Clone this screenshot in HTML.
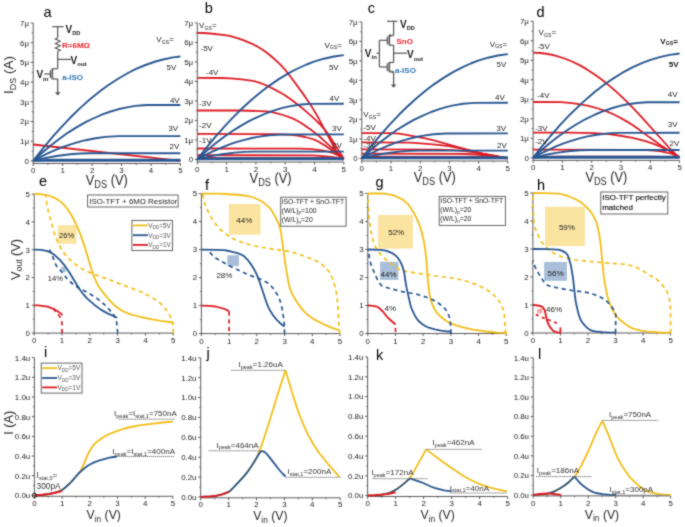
<!DOCTYPE html>
<html><head><meta charset="utf-8"><style>
html,body{margin:0;padding:0;background:#fff;}
svg{display:block;}
svg text{font-family:"Liberation Sans", sans-serif;}
</style></head><body>
<svg width="685" height="527" viewBox="0 0 685 527">
<defs><filter id="soft" x="0" y="0" width="685" height="527" filterUnits="userSpaceOnUse" color-interpolation-filters="sRGB"><feConvolveMatrix order="3" kernelMatrix="1 2 1 2 12 2 1 2 1" divisor="24" edgeMode="duplicate"/></filter></defs>
<rect width="685" height="527" fill="#fff"/>
<g filter="url(#soft)">
<rect width="685" height="527" fill="#fff"/>
<line x1="33.2" y1="163.5" x2="33.2" y2="23" stroke="#5a5a5a" stroke-width="1"/>
<line x1="32.7" y1="163.5" x2="180.4" y2="163.5" stroke="#5a5a5a" stroke-width="1"/>
<line x1="30.7" y1="160.9" x2="33.2" y2="160.9" stroke="#5a5a5a" stroke-width="1"/>
<text x="29" y="163.7" font-size="7.9" fill="#1c1c1c" text-anchor="end" font-weight="normal" >0</text>
<line x1="30.7" y1="141.2" x2="33.2" y2="141.2" stroke="#5a5a5a" stroke-width="1"/>
<text x="29" y="144" font-size="7.9" fill="#1c1c1c" text-anchor="end" font-weight="normal" >1μ</text>
<line x1="30.7" y1="121.5" x2="33.2" y2="121.5" stroke="#5a5a5a" stroke-width="1"/>
<text x="29" y="124.3" font-size="7.9" fill="#1c1c1c" text-anchor="end" font-weight="normal" >2μ</text>
<line x1="30.7" y1="101.8" x2="33.2" y2="101.8" stroke="#5a5a5a" stroke-width="1"/>
<text x="29" y="104.6" font-size="7.9" fill="#1c1c1c" text-anchor="end" font-weight="normal" >3μ</text>
<line x1="30.7" y1="82.1" x2="33.2" y2="82.1" stroke="#5a5a5a" stroke-width="1"/>
<text x="29" y="84.9" font-size="7.9" fill="#1c1c1c" text-anchor="end" font-weight="normal" >4μ</text>
<line x1="30.7" y1="62.4" x2="33.2" y2="62.4" stroke="#5a5a5a" stroke-width="1"/>
<text x="29" y="65.2" font-size="7.9" fill="#1c1c1c" text-anchor="end" font-weight="normal" >5μ</text>
<line x1="30.7" y1="42.7" x2="33.2" y2="42.7" stroke="#5a5a5a" stroke-width="1"/>
<text x="29" y="45.5" font-size="7.9" fill="#1c1c1c" text-anchor="end" font-weight="normal" >6μ</text>
<line x1="30.7" y1="23" x2="33.2" y2="23" stroke="#5a5a5a" stroke-width="1"/>
<text x="29" y="25.8" font-size="7.9" fill="#1c1c1c" text-anchor="end" font-weight="normal" >7μ</text>
<line x1="31.7" y1="151.1" x2="33.2" y2="151.1" stroke="#5a5a5a" stroke-width="0.8"/>
<line x1="31.7" y1="131.4" x2="33.2" y2="131.4" stroke="#5a5a5a" stroke-width="0.8"/>
<line x1="31.7" y1="111.7" x2="33.2" y2="111.7" stroke="#5a5a5a" stroke-width="0.8"/>
<line x1="31.7" y1="92" x2="33.2" y2="92" stroke="#5a5a5a" stroke-width="0.8"/>
<line x1="31.7" y1="72.3" x2="33.2" y2="72.3" stroke="#5a5a5a" stroke-width="0.8"/>
<line x1="31.7" y1="52.6" x2="33.2" y2="52.6" stroke="#5a5a5a" stroke-width="0.8"/>
<line x1="31.7" y1="32.9" x2="33.2" y2="32.9" stroke="#5a5a5a" stroke-width="0.8"/>
<line x1="33.2" y1="163.5" x2="33.2" y2="166" stroke="#5a5a5a" stroke-width="1"/>
<text x="33.2" y="173.3" font-size="7.9" fill="#1c1c1c" text-anchor="middle" font-weight="normal" >0</text>
<line x1="62.7" y1="163.5" x2="62.7" y2="166" stroke="#5a5a5a" stroke-width="1"/>
<text x="62.7" y="173.3" font-size="7.9" fill="#1c1c1c" text-anchor="middle" font-weight="normal" >1</text>
<line x1="92.1" y1="163.5" x2="92.1" y2="166" stroke="#5a5a5a" stroke-width="1"/>
<text x="92.1" y="173.3" font-size="7.9" fill="#1c1c1c" text-anchor="middle" font-weight="normal" >2</text>
<line x1="121.5" y1="163.5" x2="121.5" y2="166" stroke="#5a5a5a" stroke-width="1"/>
<text x="121.5" y="173.3" font-size="7.9" fill="#1c1c1c" text-anchor="middle" font-weight="normal" >3</text>
<line x1="151" y1="163.5" x2="151" y2="166" stroke="#5a5a5a" stroke-width="1"/>
<text x="151" y="173.3" font-size="7.9" fill="#1c1c1c" text-anchor="middle" font-weight="normal" >4</text>
<line x1="180.4" y1="163.5" x2="180.4" y2="166" stroke="#5a5a5a" stroke-width="1"/>
<text x="180.4" y="173.3" font-size="7.9" fill="#1c1c1c" text-anchor="middle" font-weight="normal" >5</text>
<line x1="47.9" y1="163.5" x2="47.9" y2="165" stroke="#5a5a5a" stroke-width="0.8"/>
<line x1="77.4" y1="163.5" x2="77.4" y2="165" stroke="#5a5a5a" stroke-width="0.8"/>
<line x1="106.8" y1="163.5" x2="106.8" y2="165" stroke="#5a5a5a" stroke-width="0.8"/>
<line x1="136.3" y1="163.5" x2="136.3" y2="165" stroke="#5a5a5a" stroke-width="0.8"/>
<line x1="165.7" y1="163.5" x2="165.7" y2="165" stroke="#5a5a5a" stroke-width="0.8"/>
<text x="106.8" y="184.8" font-size="14" fill="#2a2a2a" text-anchor="middle" font-weight="normal" textLength="42" lengthAdjust="spacingAndGlyphs">V<tspan font-size="10" dy="3">DS</tspan><tspan dy="-3"> (V)</tspan></text>
<line x1="197.3" y1="162" x2="197.3" y2="22.9" stroke="#5a5a5a" stroke-width="1"/>
<line x1="196.8" y1="162" x2="343.8" y2="162" stroke="#5a5a5a" stroke-width="1"/>
<line x1="194.8" y1="159.4" x2="197.3" y2="159.4" stroke="#5a5a5a" stroke-width="1"/>
<text x="193.1" y="162.2" font-size="7.9" fill="#1c1c1c" text-anchor="end" font-weight="normal" >0</text>
<line x1="194.8" y1="139.9" x2="197.3" y2="139.9" stroke="#5a5a5a" stroke-width="1"/>
<text x="193.1" y="142.7" font-size="7.9" fill="#1c1c1c" text-anchor="end" font-weight="normal" >1μ</text>
<line x1="194.8" y1="120.4" x2="197.3" y2="120.4" stroke="#5a5a5a" stroke-width="1"/>
<text x="193.1" y="123.2" font-size="7.9" fill="#1c1c1c" text-anchor="end" font-weight="normal" >2μ</text>
<line x1="194.8" y1="100.9" x2="197.3" y2="100.9" stroke="#5a5a5a" stroke-width="1"/>
<text x="193.1" y="103.7" font-size="7.9" fill="#1c1c1c" text-anchor="end" font-weight="normal" >3μ</text>
<line x1="194.8" y1="81.4" x2="197.3" y2="81.4" stroke="#5a5a5a" stroke-width="1"/>
<text x="193.1" y="84.2" font-size="7.9" fill="#1c1c1c" text-anchor="end" font-weight="normal" >4μ</text>
<line x1="194.8" y1="61.9" x2="197.3" y2="61.9" stroke="#5a5a5a" stroke-width="1"/>
<text x="193.1" y="64.7" font-size="7.9" fill="#1c1c1c" text-anchor="end" font-weight="normal" >5μ</text>
<line x1="194.8" y1="42.4" x2="197.3" y2="42.4" stroke="#5a5a5a" stroke-width="1"/>
<text x="193.1" y="45.2" font-size="7.9" fill="#1c1c1c" text-anchor="end" font-weight="normal" >6μ</text>
<line x1="194.8" y1="22.9" x2="197.3" y2="22.9" stroke="#5a5a5a" stroke-width="1"/>
<text x="193.1" y="25.7" font-size="7.9" fill="#1c1c1c" text-anchor="end" font-weight="normal" >7μ</text>
<line x1="195.8" y1="149.7" x2="197.3" y2="149.7" stroke="#5a5a5a" stroke-width="0.8"/>
<line x1="195.8" y1="130.2" x2="197.3" y2="130.2" stroke="#5a5a5a" stroke-width="0.8"/>
<line x1="195.8" y1="110.7" x2="197.3" y2="110.7" stroke="#5a5a5a" stroke-width="0.8"/>
<line x1="195.8" y1="91.2" x2="197.3" y2="91.2" stroke="#5a5a5a" stroke-width="0.8"/>
<line x1="195.8" y1="71.7" x2="197.3" y2="71.7" stroke="#5a5a5a" stroke-width="0.8"/>
<line x1="195.8" y1="52.2" x2="197.3" y2="52.2" stroke="#5a5a5a" stroke-width="0.8"/>
<line x1="195.8" y1="32.7" x2="197.3" y2="32.7" stroke="#5a5a5a" stroke-width="0.8"/>
<line x1="197.3" y1="162" x2="197.3" y2="164.5" stroke="#5a5a5a" stroke-width="1"/>
<text x="197.3" y="171.8" font-size="7.9" fill="#1c1c1c" text-anchor="middle" font-weight="normal" >0</text>
<line x1="226.6" y1="162" x2="226.6" y2="164.5" stroke="#5a5a5a" stroke-width="1"/>
<text x="226.6" y="171.8" font-size="7.9" fill="#1c1c1c" text-anchor="middle" font-weight="normal" >1</text>
<line x1="255.9" y1="162" x2="255.9" y2="164.5" stroke="#5a5a5a" stroke-width="1"/>
<text x="255.9" y="171.8" font-size="7.9" fill="#1c1c1c" text-anchor="middle" font-weight="normal" >2</text>
<line x1="285.2" y1="162" x2="285.2" y2="164.5" stroke="#5a5a5a" stroke-width="1"/>
<text x="285.2" y="171.8" font-size="7.9" fill="#1c1c1c" text-anchor="middle" font-weight="normal" >3</text>
<line x1="314.5" y1="162" x2="314.5" y2="164.5" stroke="#5a5a5a" stroke-width="1"/>
<text x="314.5" y="171.8" font-size="7.9" fill="#1c1c1c" text-anchor="middle" font-weight="normal" >4</text>
<line x1="343.8" y1="162" x2="343.8" y2="164.5" stroke="#5a5a5a" stroke-width="1"/>
<text x="343.8" y="171.8" font-size="7.9" fill="#1c1c1c" text-anchor="middle" font-weight="normal" >5</text>
<line x1="212" y1="162" x2="212" y2="163.5" stroke="#5a5a5a" stroke-width="0.8"/>
<line x1="241.2" y1="162" x2="241.2" y2="163.5" stroke="#5a5a5a" stroke-width="0.8"/>
<line x1="270.6" y1="162" x2="270.6" y2="163.5" stroke="#5a5a5a" stroke-width="0.8"/>
<line x1="299.9" y1="162" x2="299.9" y2="163.5" stroke="#5a5a5a" stroke-width="0.8"/>
<line x1="329.1" y1="162" x2="329.1" y2="163.5" stroke="#5a5a5a" stroke-width="0.8"/>
<text x="270.6" y="183.3" font-size="14" fill="#2a2a2a" text-anchor="middle" font-weight="normal" textLength="42" lengthAdjust="spacingAndGlyphs">V<tspan font-size="10" dy="3">DS</tspan><tspan dy="-3"> (V)</tspan></text>
<line x1="361.8" y1="161" x2="361.8" y2="21.9" stroke="#5a5a5a" stroke-width="1"/>
<line x1="361.3" y1="161" x2="507.8" y2="161" stroke="#5a5a5a" stroke-width="1"/>
<line x1="359.3" y1="158.4" x2="361.8" y2="158.4" stroke="#5a5a5a" stroke-width="1"/>
<text x="357.6" y="161.2" font-size="7.9" fill="#1c1c1c" text-anchor="end" font-weight="normal" >0</text>
<line x1="359.3" y1="138.9" x2="361.8" y2="138.9" stroke="#5a5a5a" stroke-width="1"/>
<text x="357.6" y="141.7" font-size="7.9" fill="#1c1c1c" text-anchor="end" font-weight="normal" >1μ</text>
<line x1="359.3" y1="119.4" x2="361.8" y2="119.4" stroke="#5a5a5a" stroke-width="1"/>
<text x="357.6" y="122.2" font-size="7.9" fill="#1c1c1c" text-anchor="end" font-weight="normal" >2μ</text>
<line x1="359.3" y1="99.9" x2="361.8" y2="99.9" stroke="#5a5a5a" stroke-width="1"/>
<text x="357.6" y="102.7" font-size="7.9" fill="#1c1c1c" text-anchor="end" font-weight="normal" >3μ</text>
<line x1="359.3" y1="80.4" x2="361.8" y2="80.4" stroke="#5a5a5a" stroke-width="1"/>
<text x="357.6" y="83.2" font-size="7.9" fill="#1c1c1c" text-anchor="end" font-weight="normal" >4μ</text>
<line x1="359.3" y1="60.9" x2="361.8" y2="60.9" stroke="#5a5a5a" stroke-width="1"/>
<text x="357.6" y="63.7" font-size="7.9" fill="#1c1c1c" text-anchor="end" font-weight="normal" >5μ</text>
<line x1="359.3" y1="41.4" x2="361.8" y2="41.4" stroke="#5a5a5a" stroke-width="1"/>
<text x="357.6" y="44.2" font-size="7.9" fill="#1c1c1c" text-anchor="end" font-weight="normal" >6μ</text>
<line x1="359.3" y1="21.9" x2="361.8" y2="21.9" stroke="#5a5a5a" stroke-width="1"/>
<text x="357.6" y="24.7" font-size="7.9" fill="#1c1c1c" text-anchor="end" font-weight="normal" >7μ</text>
<line x1="360.3" y1="148.7" x2="361.8" y2="148.7" stroke="#5a5a5a" stroke-width="0.8"/>
<line x1="360.3" y1="129.2" x2="361.8" y2="129.2" stroke="#5a5a5a" stroke-width="0.8"/>
<line x1="360.3" y1="109.7" x2="361.8" y2="109.7" stroke="#5a5a5a" stroke-width="0.8"/>
<line x1="360.3" y1="90.2" x2="361.8" y2="90.2" stroke="#5a5a5a" stroke-width="0.8"/>
<line x1="360.3" y1="70.7" x2="361.8" y2="70.7" stroke="#5a5a5a" stroke-width="0.8"/>
<line x1="360.3" y1="51.2" x2="361.8" y2="51.2" stroke="#5a5a5a" stroke-width="0.8"/>
<line x1="360.3" y1="31.7" x2="361.8" y2="31.7" stroke="#5a5a5a" stroke-width="0.8"/>
<line x1="361.8" y1="161" x2="361.8" y2="163.5" stroke="#5a5a5a" stroke-width="1"/>
<text x="361.8" y="170.8" font-size="7.9" fill="#1c1c1c" text-anchor="middle" font-weight="normal" >0</text>
<line x1="391" y1="161" x2="391" y2="163.5" stroke="#5a5a5a" stroke-width="1"/>
<text x="391" y="170.8" font-size="7.9" fill="#1c1c1c" text-anchor="middle" font-weight="normal" >1</text>
<line x1="420.2" y1="161" x2="420.2" y2="163.5" stroke="#5a5a5a" stroke-width="1"/>
<text x="420.2" y="170.8" font-size="7.9" fill="#1c1c1c" text-anchor="middle" font-weight="normal" >2</text>
<line x1="449.4" y1="161" x2="449.4" y2="163.5" stroke="#5a5a5a" stroke-width="1"/>
<text x="449.4" y="170.8" font-size="7.9" fill="#1c1c1c" text-anchor="middle" font-weight="normal" >3</text>
<line x1="478.6" y1="161" x2="478.6" y2="163.5" stroke="#5a5a5a" stroke-width="1"/>
<text x="478.6" y="170.8" font-size="7.9" fill="#1c1c1c" text-anchor="middle" font-weight="normal" >4</text>
<line x1="507.8" y1="161" x2="507.8" y2="163.5" stroke="#5a5a5a" stroke-width="1"/>
<text x="507.8" y="170.8" font-size="7.9" fill="#1c1c1c" text-anchor="middle" font-weight="normal" >5</text>
<line x1="376.4" y1="161" x2="376.4" y2="162.5" stroke="#5a5a5a" stroke-width="0.8"/>
<line x1="405.6" y1="161" x2="405.6" y2="162.5" stroke="#5a5a5a" stroke-width="0.8"/>
<line x1="434.8" y1="161" x2="434.8" y2="162.5" stroke="#5a5a5a" stroke-width="0.8"/>
<line x1="464" y1="161" x2="464" y2="162.5" stroke="#5a5a5a" stroke-width="0.8"/>
<line x1="493.2" y1="161" x2="493.2" y2="162.5" stroke="#5a5a5a" stroke-width="0.8"/>
<text x="434.8" y="182.3" font-size="14" fill="#2a2a2a" text-anchor="middle" font-weight="normal" textLength="42" lengthAdjust="spacingAndGlyphs">V<tspan font-size="10" dy="3">DS</tspan><tspan dy="-3"> (V)</tspan></text>
<line x1="533.1" y1="160.4" x2="533.1" y2="21.3" stroke="#5a5a5a" stroke-width="1"/>
<line x1="532.6" y1="160.4" x2="679.6" y2="160.4" stroke="#5a5a5a" stroke-width="1"/>
<line x1="530.6" y1="157.8" x2="533.1" y2="157.8" stroke="#5a5a5a" stroke-width="1"/>
<text x="528.9" y="160.6" font-size="7.9" fill="#1c1c1c" text-anchor="end" font-weight="normal" >0</text>
<line x1="530.6" y1="138.3" x2="533.1" y2="138.3" stroke="#5a5a5a" stroke-width="1"/>
<text x="528.9" y="141.1" font-size="7.9" fill="#1c1c1c" text-anchor="end" font-weight="normal" >1μ</text>
<line x1="530.6" y1="118.8" x2="533.1" y2="118.8" stroke="#5a5a5a" stroke-width="1"/>
<text x="528.9" y="121.6" font-size="7.9" fill="#1c1c1c" text-anchor="end" font-weight="normal" >2μ</text>
<line x1="530.6" y1="99.3" x2="533.1" y2="99.3" stroke="#5a5a5a" stroke-width="1"/>
<text x="528.9" y="102.1" font-size="7.9" fill="#1c1c1c" text-anchor="end" font-weight="normal" >3μ</text>
<line x1="530.6" y1="79.8" x2="533.1" y2="79.8" stroke="#5a5a5a" stroke-width="1"/>
<text x="528.9" y="82.6" font-size="7.9" fill="#1c1c1c" text-anchor="end" font-weight="normal" >4μ</text>
<line x1="530.6" y1="60.3" x2="533.1" y2="60.3" stroke="#5a5a5a" stroke-width="1"/>
<text x="528.9" y="63.1" font-size="7.9" fill="#1c1c1c" text-anchor="end" font-weight="normal" >5μ</text>
<line x1="530.6" y1="40.8" x2="533.1" y2="40.8" stroke="#5a5a5a" stroke-width="1"/>
<text x="528.9" y="43.6" font-size="7.9" fill="#1c1c1c" text-anchor="end" font-weight="normal" >6μ</text>
<line x1="530.6" y1="21.3" x2="533.1" y2="21.3" stroke="#5a5a5a" stroke-width="1"/>
<text x="528.9" y="24.1" font-size="7.9" fill="#1c1c1c" text-anchor="end" font-weight="normal" >7μ</text>
<line x1="531.6" y1="148.1" x2="533.1" y2="148.1" stroke="#5a5a5a" stroke-width="0.8"/>
<line x1="531.6" y1="128.6" x2="533.1" y2="128.6" stroke="#5a5a5a" stroke-width="0.8"/>
<line x1="531.6" y1="109.1" x2="533.1" y2="109.1" stroke="#5a5a5a" stroke-width="0.8"/>
<line x1="531.6" y1="89.6" x2="533.1" y2="89.6" stroke="#5a5a5a" stroke-width="0.8"/>
<line x1="531.6" y1="70.1" x2="533.1" y2="70.1" stroke="#5a5a5a" stroke-width="0.8"/>
<line x1="531.6" y1="50.6" x2="533.1" y2="50.6" stroke="#5a5a5a" stroke-width="0.8"/>
<line x1="531.6" y1="31.1" x2="533.1" y2="31.1" stroke="#5a5a5a" stroke-width="0.8"/>
<line x1="533.1" y1="160.4" x2="533.1" y2="162.9" stroke="#5a5a5a" stroke-width="1"/>
<text x="533.1" y="170.2" font-size="7.9" fill="#1c1c1c" text-anchor="middle" font-weight="normal" >0</text>
<line x1="562.4" y1="160.4" x2="562.4" y2="162.9" stroke="#5a5a5a" stroke-width="1"/>
<text x="562.4" y="170.2" font-size="7.9" fill="#1c1c1c" text-anchor="middle" font-weight="normal" >1</text>
<line x1="591.7" y1="160.4" x2="591.7" y2="162.9" stroke="#5a5a5a" stroke-width="1"/>
<text x="591.7" y="170.2" font-size="7.9" fill="#1c1c1c" text-anchor="middle" font-weight="normal" >2</text>
<line x1="621" y1="160.4" x2="621" y2="162.9" stroke="#5a5a5a" stroke-width="1"/>
<text x="621" y="170.2" font-size="7.9" fill="#1c1c1c" text-anchor="middle" font-weight="normal" >3</text>
<line x1="650.3" y1="160.4" x2="650.3" y2="162.9" stroke="#5a5a5a" stroke-width="1"/>
<text x="650.3" y="170.2" font-size="7.9" fill="#1c1c1c" text-anchor="middle" font-weight="normal" >4</text>
<line x1="679.6" y1="160.4" x2="679.6" y2="162.9" stroke="#5a5a5a" stroke-width="1"/>
<text x="679.6" y="170.2" font-size="7.9" fill="#1c1c1c" text-anchor="middle" font-weight="normal" >5</text>
<line x1="547.8" y1="160.4" x2="547.8" y2="161.9" stroke="#5a5a5a" stroke-width="0.8"/>
<line x1="577.1" y1="160.4" x2="577.1" y2="161.9" stroke="#5a5a5a" stroke-width="0.8"/>
<line x1="606.4" y1="160.4" x2="606.4" y2="161.9" stroke="#5a5a5a" stroke-width="0.8"/>
<line x1="635.6" y1="160.4" x2="635.6" y2="161.9" stroke="#5a5a5a" stroke-width="0.8"/>
<line x1="665" y1="160.4" x2="665" y2="161.9" stroke="#5a5a5a" stroke-width="0.8"/>
<text x="606.4" y="181.7" font-size="14" fill="#2a2a2a" text-anchor="middle" font-weight="normal" textLength="42" lengthAdjust="spacingAndGlyphs">V<tspan font-size="10" dy="3">DS</tspan><tspan dy="-3"> (V)</tspan></text>
<path d="M33.2,144.5 L180.4,160.9" fill="none" stroke="#de1b24" stroke-width="1.8" stroke-linejoin="round" />
<path d="M33.2,160.9 L43.2,148.1 L53.2,136.2 L60.7,127.8 L70.6,117.3 L80.6,107.6 L90.6,98.8 L100.6,90.8 L108.1,85.3 L118.1,78.7 L128,73 L135.5,69.2 L145.5,65 L155.5,61.5 L163,59.5 L173,57.4 L180.4,56.5" fill="none" stroke="#285690" stroke-width="1.9" stroke-linejoin="round" />
<path d="M33.2,160.9 L40.7,154 L50.7,145.5 L58.2,139.7 L68.1,132.6 L75.6,127.9 L85.6,122.2 L93.1,118.5 L103.1,114.2 L110.6,111.5 L118.1,109.3 L128,107.1 L135.5,105.9 L143,105.2 L148,105 L180.4,105" fill="none" stroke="#285690" stroke-width="1.9" stroke-linejoin="round" />
<path d="M33.2,160.9 L40.7,156.9 L48.2,153.2 L55.7,149.9 L63.1,146.9 L70.6,144.3 L78.1,142.1 L85.6,140.2 L95.6,138.2 L105.6,136.9 L118.1,136.1 L180.4,136.1" fill="none" stroke="#285690" stroke-width="1.9" stroke-linejoin="round" />
<path d="M33.2,160.9 L45.7,158 L58.2,155.8 L70.6,154.2 L80.6,153.5 L90.6,153.2 L180.4,153.2" fill="none" stroke="#285690" stroke-width="1.9" stroke-linejoin="round" />
<path d="M33.2,160.9 L48.2,160 L60.7,159.7 L180.4,159.7" fill="none" stroke="#285690" stroke-width="1.9" stroke-linejoin="round" />
<path d="M33.2,160.9 L180.4,160.9" fill="none" stroke="#285690" stroke-width="1.9" stroke-linejoin="round" />
<path d="M197.3,32.8 L202.9,33 L210.3,33.5 L225.1,35.2 L230.7,36.2 L238.1,38.3 L243.7,40.3 L249.2,42.6 L252.9,44.2 L256.6,46.1 L264.1,50.8 L267.8,53.5 L273.3,58 L280.7,64.8 L286.3,71.2 L291.9,78.5 L304.9,96.4 L312.3,107.6 L317.8,116.8 L334.5,148 L336.4,150.9 L338.2,153.3 L341.9,157.4 L343.8,159" fill="none" stroke="#de1b24" stroke-width="1.8" stroke-linejoin="round" />
<path d="M197.3,77.9 L221.4,78 L230.7,78.3 L241.8,79.3 L252.9,80.9 L258.5,82.3 L264.1,84.5 L271.5,87.9 L280.7,92.7 L284.5,95 L290,98.7 L299.3,105.8 L310.4,115.1 L316,120.3 L319.7,124 L325.3,130.3 L329,135.3 L343.8,158.8" fill="none" stroke="#de1b24" stroke-width="1.8" stroke-linejoin="round" />
<path d="M197.3,110.5 L240,110.5 L265.9,111.3 L269.6,111.7 L275.2,112.8 L284.5,115.5 L291.9,118.1 L297.4,120.7 L303,124.2 L312.3,130.8 L316,133.6 L321.5,138.3 L343.8,158.8" fill="none" stroke="#de1b24" stroke-width="1.8" stroke-linejoin="round" />
<path d="M197.3,133.9 L275.2,134.1 L291.9,134.9 L299.3,135.8 L304.9,137 L312.3,139 L314.1,139.6 L317.8,141.3 L323.4,144.6 L334.5,152.1 L343.8,158.8" fill="none" stroke="#de1b24" stroke-width="1.8" stroke-linejoin="round" />
<path d="M197.3,148.5 L299.3,148.7 L312.3,149.2 L317.8,149.8 L323.4,150.6 L329,151.8 L332.7,152.8 L334.5,153.6 L338.2,155.5 L343.8,159" fill="none" stroke="#de1b24" stroke-width="1.8" stroke-linejoin="round" />
<path d="M197.3,155.1 L312.3,155.4 L319.7,155.8 L329,156.6 L336.4,157.7 L343.8,159.2" fill="none" stroke="#de1b24" stroke-width="1.8" stroke-linejoin="round" />
<path d="M197.3,158 L321.5,158.2 L329,158.5 L343.8,159.4" fill="none" stroke="#de1b24" stroke-width="1.8" stroke-linejoin="round" />
<path d="M197.3,159.4 L204.7,149.8 L214.7,137.6 L224.6,126.3 L232.1,118.4 L242,108.5 L251.9,99.5 L261.9,91.3 L269.3,85.6 L279.2,78.9 L289.2,72.9 L296.6,69 L306.6,64.5 L314,61.7 L323.9,58.7 L333.9,56.5 L343.8,55.1" fill="none" stroke="#285690" stroke-width="1.9" stroke-linejoin="round" />
<path d="M197.3,159.4 L207.2,150.4 L214.7,144.1 L224.6,136.5 L232.1,131.3 L239.5,126.6 L249.4,120.9 L256.9,117.3 L266.8,113 L274.3,110.4 L281.7,108.2 L289.2,106.4 L299.1,104.8 L304.1,104.3 L311.5,103.9 L343.8,103.8" fill="none" stroke="#285690" stroke-width="1.9" stroke-linejoin="round" />
<path d="M197.3,159.4 L204.7,155.3 L212.2,151.7 L222.1,147.3 L229.6,144.4 L237,141.9 L244.5,139.8 L251.9,138 L259.4,136.6 L269.3,135.3 L281.7,134.5 L343.8,134.4" fill="none" stroke="#285690" stroke-width="1.9" stroke-linejoin="round" />
<path d="M197.3,159.4 L209.7,156.4 L222.1,154.2 L234.5,152.6 L244.5,151.9 L254.4,151.6 L343.8,151.6" fill="none" stroke="#285690" stroke-width="1.9" stroke-linejoin="round" />
<path d="M197.3,159.4 L209.7,158.6 L224.6,158.2 L343.8,158.2" fill="none" stroke="#285690" stroke-width="1.9" stroke-linejoin="round" />
<path d="M197.3,159.4 L343.8,159.4" fill="none" stroke="#285690" stroke-width="1.9" stroke-linejoin="round" />
<path d="M361.8,133.1 L391.4,133.1 L398.8,133.7 L408,135.1 L426.5,138.7 L433.9,140.3 L456.1,146.6 L480.1,153.1 L494.9,156.2 L507.8,158.4" fill="none" stroke="#de1b24" stroke-width="1.8" stroke-linejoin="round" />
<path d="M361.8,142.4 L409.9,142.7 L420.9,143.4 L435.7,144.7 L448.7,146.2 L454.2,147.1 L461.6,148.7 L481.9,153.6 L507.8,158.4" fill="none" stroke="#de1b24" stroke-width="1.8" stroke-linejoin="round" />
<path d="M361.8,149.4 L437.6,149.6 L452.4,150.2 L465.3,151.1 L472.7,152 L493,155.5 L507.8,158.4" fill="none" stroke="#de1b24" stroke-width="1.8" stroke-linejoin="round" />
<path d="M361.8,153.7 L454.2,153.8 L465.3,154 L476.4,154.5 L489.3,155.5 L498.6,156.8 L507.8,158.4" fill="none" stroke="#de1b24" stroke-width="1.8" stroke-linejoin="round" />
<path d="M361.8,156.6 L474.5,156.8 L487.5,157.2 L507.8,158.4" fill="none" stroke="#de1b24" stroke-width="1.8" stroke-linejoin="round" />
<path d="M361.8,158.4 L369.2,148.8 L379.1,136.6 L389,125.3 L398.9,114.8 L406.3,107.5 L416.2,98.5 L426.1,90.3 L433.6,84.6 L443.5,77.9 L453.4,71.9 L463.3,66.8 L470.7,63.5 L478.1,60.7 L488,57.7 L497.9,55.5 L507.8,54.1" fill="none" stroke="#285690" stroke-width="1.9" stroke-linejoin="round" />
<path d="M361.8,158.4 L371.7,149.4 L379.1,143.1 L389,135.5 L396.4,130.3 L406.3,124.1 L413.8,119.9 L421.2,116.3 L431.1,112 L438.5,109.4 L445.9,107.2 L453.4,105.4 L463.3,103.8 L470.7,103.1 L475.6,102.9 L507.8,102.8" fill="none" stroke="#285690" stroke-width="1.9" stroke-linejoin="round" />
<path d="M361.8,158.4 L369.2,154.3 L379.1,149.5 L386.5,146.3 L394,143.4 L401.4,140.9 L408.8,138.8 L416.2,137 L423.7,135.6 L433.6,134.3 L445.9,133.5 L507.8,133.4" fill="none" stroke="#285690" stroke-width="1.9" stroke-linejoin="round" />
<path d="M361.8,158.4 L374.2,155.4 L386.5,153.2 L398.9,151.6 L408.8,150.9 L418.7,150.6 L507.8,150.6" fill="none" stroke="#285690" stroke-width="1.9" stroke-linejoin="round" />
<path d="M361.8,158.4 L374.2,157.6 L389,157.2 L507.8,157.2" fill="none" stroke="#285690" stroke-width="1.9" stroke-linejoin="round" />
<path d="M361.8,158.4 L507.8,158.4" fill="none" stroke="#285690" stroke-width="1.9" stroke-linejoin="round" />
<path d="M533.1,52.7 L540.5,53 L547.9,54 L555.4,55.6 L564.6,58.5 L572,61.5 L579.5,65.1 L586.9,69.4 L596.2,75.5 L603.6,81 L611,87.1 L618.4,93.7 L625.8,100.7 L633.2,108.2 L640.7,116.1 L670.3,149 L675.9,154.5 L679.6,157.4" fill="none" stroke="#de1b24" stroke-width="1.8" stroke-linejoin="round" />
<path d="M533.1,102 L560.9,102.2 L566.5,102.6 L572,103.1 L583.2,104.8 L588.7,105.9 L598,108.5 L607.3,111.7 L612.8,114 L618.4,116.8 L625.8,120.9 L631.4,124.2 L636.9,128 L649.9,137.6 L661.1,145.4 L670.3,151.6 L679.6,157.4" fill="none" stroke="#de1b24" stroke-width="1.8" stroke-linejoin="round" />
<path d="M533.1,132.6 L568.3,132.7 L594.3,133.1 L609.1,134.2 L622.1,136 L631.4,137.7 L638.8,139.4 L646.2,141.4 L653.6,143.8 L661.1,146.9 L668.5,150.5 L674,153.7 L679.6,157.4" fill="none" stroke="#de1b24" stroke-width="1.8" stroke-linejoin="round" />
<path d="M533.1,149.6 L627.7,149.8 L640.7,149.8 L646.2,150 L657.3,150.9 L661.1,151.4 L666.6,152.5 L672.2,154 L675.9,155.6 L679.6,157.4" fill="none" stroke="#de1b24" stroke-width="1.8" stroke-linejoin="round" />
<path d="M533.1,156.6 L651.8,156.6 L679.6,157.4" fill="none" stroke="#de1b24" stroke-width="1.8" stroke-linejoin="round" />
<path d="M533.1,157.8 L540.5,148.2 L550.5,136 L560.4,124.7 L570.3,114.2 L580.3,104.6 L587.7,97.9 L595.2,91.6 L605.1,84 L612.6,78.9 L622.5,72.7 L632.4,67.4 L642.4,62.9 L649.8,60.1 L659.7,57.1 L669.7,54.9 L679.6,53.5" fill="none" stroke="#285690" stroke-width="1.9" stroke-linejoin="round" />
<path d="M533.1,157.8 L540.5,151 L550.5,142.5 L557.9,136.7 L567.9,129.7 L575.3,125 L585.2,119.3 L595.2,114.5 L602.6,111.4 L612.6,108 L620,105.9 L627.5,104.3 L634.9,103.2 L639.9,102.7 L647.3,102.3 L679.6,102.2" fill="none" stroke="#285690" stroke-width="1.9" stroke-linejoin="round" />
<path d="M533.1,157.8 L540.5,153.7 L548,150.1 L555.4,146.7 L562.9,143.7 L570.3,141.1 L580.3,138.2 L587.7,136.4 L595.2,135 L607.6,133.4 L617.5,132.9 L679.6,132.8" fill="none" stroke="#285690" stroke-width="1.9" stroke-linejoin="round" />
<path d="M533.1,157.8 L545.5,154.8 L557.9,152.6 L570.3,151 L580.3,150.3 L590.2,150 L679.6,150" fill="none" stroke="#285690" stroke-width="1.9" stroke-linejoin="round" />
<path d="M533.1,157.8 L545.5,157 L560.4,156.6 L679.6,156.6" fill="none" stroke="#285690" stroke-width="1.9" stroke-linejoin="round" />
<path d="M533.1,157.8 L679.6,157.8" fill="none" stroke="#285690" stroke-width="1.9" stroke-linejoin="round" />
<text x="43.6" y="16.7" font-size="14.5" fill="#000" text-anchor="start" font-weight="normal" >a</text>
<text x="204.7" y="12.5" font-size="14.5" fill="#000" text-anchor="start" font-weight="normal" >b</text>
<text x="367.8" y="12.8" font-size="14.5" fill="#000" text-anchor="start" font-weight="normal" >c</text>
<text x="536.4" y="16.8" font-size="14.5" fill="#000" text-anchor="start" font-weight="normal" >d</text>
<text transform="translate(13.4,75) rotate(-90)" font-size="13.5" fill="#2a2a2a" text-anchor="middle">I<tspan font-size="9" dy="2.6">DS</tspan><tspan dy="-2.6"> (A)</tspan></text>
<text x="156.3" y="42" font-size="8" fill="#1c1c1c" text-anchor="start" font-weight="normal" >V<tspan font-size="5.2" dy="1.6">GS</tspan><tspan dy="-1.6">=</tspan></text>
<text x="171.5" y="70.4" font-size="8" fill="#1c1c1c" text-anchor="middle" font-weight="normal" >5V</text>
<text x="174.8" y="102.5" font-size="8" fill="#1c1c1c" text-anchor="middle" font-weight="normal" >4V</text>
<text x="173.1" y="131.1" font-size="8" fill="#1c1c1c" text-anchor="middle" font-weight="normal" >3V</text>
<text x="174.5" y="149.3" font-size="8" fill="#1c1c1c" text-anchor="middle" font-weight="normal" >2V</text>
<text x="324.4" y="47.5" font-size="8" fill="#1c1c1c" text-anchor="start" font-weight="normal" >V<tspan font-size="5.2" dy="1.6">GS</tspan><tspan dy="-1.6">=</tspan></text>
<text x="333.8" y="70.2" font-size="8" fill="#1c1c1c" text-anchor="middle" font-weight="normal" >5V</text>
<text x="334.5" y="101.3" font-size="8" fill="#1c1c1c" text-anchor="middle" font-weight="normal" >4V</text>
<text x="337" y="131" font-size="8" fill="#1c1c1c" text-anchor="middle" font-weight="normal" >3V</text>
<text x="337" y="148.1" font-size="8" fill="#1c1c1c" text-anchor="middle" font-weight="normal" >2V</text>
<text x="489.7" y="46.8" font-size="8" fill="#1c1c1c" text-anchor="start" font-weight="normal" >V<tspan font-size="5.2" dy="1.6">GS</tspan><tspan dy="-1.6">=</tspan></text>
<text x="501.4" y="67" font-size="8" fill="#1c1c1c" text-anchor="middle" font-weight="normal" >5V</text>
<text x="500" y="99.5" font-size="8" fill="#1c1c1c" text-anchor="middle" font-weight="normal" >4V</text>
<text x="501.2" y="131.4" font-size="8" fill="#1c1c1c" text-anchor="middle" font-weight="normal" >3V</text>
<text x="502" y="147.8" font-size="8" fill="#1c1c1c" text-anchor="middle" font-weight="normal" >2V</text>
<text x="660.3" y="43.6" font-size="8" fill="#111" text-anchor="start" font-weight="bold" >V<tspan font-size="5.2" dy="1.6">GS</tspan><tspan dy="-1.6">=</tspan></text>
<text x="673.6" y="66.7" font-size="8" fill="#111" text-anchor="middle" font-weight="bold" >5V</text>
<text x="672.7" y="97.1" font-size="8" fill="#1c1c1c" text-anchor="middle" font-weight="normal" >4V</text>
<text x="672.7" y="127.4" font-size="8" fill="#1c1c1c" text-anchor="middle" font-weight="normal" >3V</text>
<text x="674.4" y="146.3" font-size="8" fill="#1c1c1c" text-anchor="middle" font-weight="normal" >2V</text>
<text x="199.1" y="28.2" font-size="8" fill="#1c1c1c" text-anchor="start" font-weight="normal" >V<tspan font-size="5.2" dy="1.6">GS</tspan><tspan dy="-1.6">=</tspan></text>
<text x="200.5" y="51.2" font-size="8" fill="#1c1c1c" text-anchor="start" font-weight="normal" >-5V</text>
<text x="206" y="75.1" font-size="8" fill="#1c1c1c" text-anchor="start" font-weight="normal" >-4V</text>
<text x="199.1" y="106.2" font-size="8" fill="#1c1c1c" text-anchor="start" font-weight="normal" >-3V</text>
<text x="199.1" y="128.3" font-size="8" fill="#1c1c1c" text-anchor="start" font-weight="normal" >-2V</text>
<text x="199.1" y="143.4" font-size="8" fill="#1c1c1c" text-anchor="start" font-weight="normal" >-1V</text>
<text x="363.3" y="117.2" font-size="8" fill="#1c1c1c" text-anchor="start" font-weight="normal" >V<tspan font-size="5.2" dy="1.6">GS</tspan><tspan dy="-1.6">=</tspan></text>
<text x="363.3" y="130.3" font-size="8" fill="#1c1c1c" text-anchor="start" font-weight="normal" >-5V</text>
<text x="363.3" y="140.8" font-size="8" fill="#1c1c1c" text-anchor="start" font-weight="normal" >-4V</text>
<text x="363.3" y="148.3" font-size="8" fill="#1c1c1c" text-anchor="start" font-weight="normal" >-3V</text>
<text x="538.6" y="35.1" font-size="8" fill="#1c1c1c" text-anchor="start" font-weight="normal" >V<tspan font-size="5.2" dy="1.6">GS</tspan><tspan dy="-1.6">=</tspan></text>
<text x="537.4" y="48.9" font-size="8" fill="#1c1c1c" text-anchor="start" font-weight="normal" >-5V</text>
<text x="537.1" y="97.9" font-size="8" fill="#1c1c1c" text-anchor="start" font-weight="normal" >-4V</text>
<text x="535.2" y="130.6" font-size="8" fill="#1c1c1c" text-anchor="start" font-weight="normal" >-3V</text>
<text x="535.2" y="144.4" font-size="8" fill="#1c1c1c" text-anchor="start" font-weight="normal" >-2V</text>
<line x1="52.2" y1="26.7" x2="63.6" y2="26.7" stroke="#555" stroke-width="1.2"/>
<line x1="57.7" y1="26.7" x2="57.7" y2="37.8" stroke="#555" stroke-width="1.2"/>
<polyline points="57.7,37.8 55.3,38.9 60.3,41.2 55.3,43.5 60.3,45.7 55.3,48 60.3,50.3 57.7,51.4" fill="none" stroke="#555" stroke-width="1.1"/>
<line x1="57.7" y1="51.4" x2="57.7" y2="68.8" stroke="#555" stroke-width="1.2"/>
<line x1="57.7" y1="59.4" x2="71" y2="59.4" stroke="#555" stroke-width="1.2"/>
<line x1="57.7" y1="68.8" x2="52.3" y2="68.8" stroke="#555" stroke-width="1.2"/>
<line x1="52.3" y1="68.4" x2="52.3" y2="79.3" stroke="#555" stroke-width="1.6"/>
<line x1="50.4" y1="70.2" x2="50.4" y2="78" stroke="#555" stroke-width="1.2"/>
<line x1="44.3" y1="74" x2="50.4" y2="74" stroke="#555" stroke-width="1.2"/>
<line x1="52.3" y1="79" x2="57.7" y2="79" stroke="#555" stroke-width="1.2"/>
<line x1="57.7" y1="79" x2="57.7" y2="95" stroke="#555" stroke-width="1.2"/>
<path d="M54.9,92.3 L60.5,92.3 L57.7,95.6 Z" fill="#555"/>
<text x="65.5" y="32.6" font-size="10" fill="#1a1a1a" text-anchor="start" font-weight="bold" >V<tspan font-size="5.6" dy="2.6">DD</tspan></text>
<text x="62" y="48.2" font-size="8" fill="#e8252d" text-anchor="start" font-weight="bold" >R=6MΩ</text>
<text x="70.6" y="63.5" font-size="10" fill="#1a1a1a" text-anchor="start" font-weight="bold" >V<tspan font-size="6" dy="2.8">out</tspan></text>
<text x="36.4" y="78" font-size="10" fill="#1a1a1a" text-anchor="start" font-weight="bold" >V<tspan font-size="6" dy="2.6">in</tspan></text>
<text x="62.2" y="80.2" font-size="8" fill="#2e75b6" text-anchor="start" font-weight="bold" >a-ISO</text>
<line x1="387" y1="21.3" x2="397.4" y2="21.3" stroke="#555" stroke-width="1.2"/>
<line x1="393.6" y1="21.3" x2="393.6" y2="35.5" stroke="#555" stroke-width="1.2"/>
<line x1="393.6" y1="35.5" x2="389.3" y2="35.5" stroke="#555" stroke-width="1.2"/>
<line x1="389.3" y1="35" x2="389.3" y2="45.5" stroke="#555" stroke-width="1.6"/>
<line x1="387.3" y1="36.5" x2="387.3" y2="44.2" stroke="#555" stroke-width="1.2"/>
<line x1="389.3" y1="45.2" x2="393.6" y2="45.2" stroke="#555" stroke-width="1.2"/>
<line x1="393.6" y1="45.2" x2="393.6" y2="62.5" stroke="#555" stroke-width="1.2"/>
<polyline points="390.6,34 389.6,35.5 391,37" fill="none" stroke="#555" stroke-width="0.9"/>
<line x1="379.4" y1="40.3" x2="387.3" y2="40.3" stroke="#555" stroke-width="1.2"/>
<line x1="379.4" y1="40.3" x2="379.4" y2="67" stroke="#555" stroke-width="1.2"/>
<line x1="379.4" y1="67" x2="387.3" y2="67" stroke="#555" stroke-width="1.2"/>
<line x1="376.5" y1="53.2" x2="379.4" y2="53.2" stroke="#555" stroke-width="1.2"/>
<line x1="393.6" y1="53.2" x2="407" y2="53.2" stroke="#555" stroke-width="1.2"/>
<line x1="393.6" y1="62.5" x2="389.3" y2="62.5" stroke="#555" stroke-width="1.2"/>
<line x1="389.3" y1="62" x2="389.3" y2="72.2" stroke="#555" stroke-width="1.6"/>
<line x1="387.3" y1="63.3" x2="387.3" y2="71" stroke="#555" stroke-width="1.2"/>
<line x1="389.3" y1="71.8" x2="393.6" y2="71.8" stroke="#555" stroke-width="1.2"/>
<polyline points="391.5,70.3 393,71.8 391.5,73.3" fill="none" stroke="#555" stroke-width="0.9"/>
<line x1="393.6" y1="71.8" x2="393.6" y2="87" stroke="#555" stroke-width="1.2"/>
<path d="M390.8,84.4 L396.4,84.4 L393.6,87.7 Z" fill="#555"/>
<text x="400" y="27.5" font-size="10" fill="#1a1a1a" text-anchor="start" font-weight="bold" >V<tspan font-size="5.6" dy="2.6">DD</tspan></text>
<text x="396.5" y="44.3" font-size="8" fill="#e8252d" text-anchor="start" font-weight="bold" >SnO</text>
<text x="407" y="58" font-size="10" fill="#1a1a1a" text-anchor="start" font-weight="bold" >V<tspan font-size="6" dy="2.8">out</tspan></text>
<text x="364.8" y="56.5" font-size="10" fill="#1a1a1a" text-anchor="start" font-weight="bold" >V<tspan font-size="6" dy="2.6">in</tspan></text>
<text x="395" y="73" font-size="8" fill="#2e75b6" text-anchor="start" font-weight="bold" >a-ISO</text>
<line x1="34.2" y1="333.1" x2="34.2" y2="194.1" stroke="#5a5a5a" stroke-width="1"/>
<line x1="33.7" y1="333.1" x2="173.2" y2="333.1" stroke="#5a5a5a" stroke-width="1"/>
<line x1="31.7" y1="333.1" x2="34.2" y2="333.1" stroke="#5a5a5a" stroke-width="1"/>
<text x="30" y="335.9" font-size="7.9" fill="#1c1c1c" text-anchor="end" font-weight="normal" >0</text>
<line x1="31.7" y1="305.3" x2="34.2" y2="305.3" stroke="#5a5a5a" stroke-width="1"/>
<text x="30" y="308.1" font-size="7.9" fill="#1c1c1c" text-anchor="end" font-weight="normal" >1</text>
<line x1="31.7" y1="277.5" x2="34.2" y2="277.5" stroke="#5a5a5a" stroke-width="1"/>
<text x="30" y="280.3" font-size="7.9" fill="#1c1c1c" text-anchor="end" font-weight="normal" >2</text>
<line x1="31.7" y1="249.7" x2="34.2" y2="249.7" stroke="#5a5a5a" stroke-width="1"/>
<text x="30" y="252.5" font-size="7.9" fill="#1c1c1c" text-anchor="end" font-weight="normal" >3</text>
<line x1="31.7" y1="221.9" x2="34.2" y2="221.9" stroke="#5a5a5a" stroke-width="1"/>
<text x="30" y="224.7" font-size="7.9" fill="#1c1c1c" text-anchor="end" font-weight="normal" >4</text>
<line x1="31.7" y1="194.1" x2="34.2" y2="194.1" stroke="#5a5a5a" stroke-width="1"/>
<text x="30" y="196.9" font-size="7.9" fill="#1c1c1c" text-anchor="end" font-weight="normal" >5</text>
<line x1="32.7" y1="319.2" x2="34.2" y2="319.2" stroke="#5a5a5a" stroke-width="0.8"/>
<line x1="32.7" y1="291.4" x2="34.2" y2="291.4" stroke="#5a5a5a" stroke-width="0.8"/>
<line x1="32.7" y1="263.6" x2="34.2" y2="263.6" stroke="#5a5a5a" stroke-width="0.8"/>
<line x1="32.7" y1="235.8" x2="34.2" y2="235.8" stroke="#5a5a5a" stroke-width="0.8"/>
<line x1="32.7" y1="208" x2="34.2" y2="208" stroke="#5a5a5a" stroke-width="0.8"/>
<line x1="34.2" y1="333.1" x2="34.2" y2="335.6" stroke="#5a5a5a" stroke-width="1"/>
<text x="34.2" y="343.1" font-size="7.9" fill="#1c1c1c" text-anchor="middle" font-weight="normal" >0</text>
<line x1="62" y1="333.1" x2="62" y2="335.6" stroke="#5a5a5a" stroke-width="1"/>
<text x="62" y="343.1" font-size="7.9" fill="#1c1c1c" text-anchor="middle" font-weight="normal" >1</text>
<line x1="89.8" y1="333.1" x2="89.8" y2="335.6" stroke="#5a5a5a" stroke-width="1"/>
<text x="89.8" y="343.1" font-size="7.9" fill="#1c1c1c" text-anchor="middle" font-weight="normal" >2</text>
<line x1="117.6" y1="333.1" x2="117.6" y2="335.6" stroke="#5a5a5a" stroke-width="1"/>
<text x="117.6" y="343.1" font-size="7.9" fill="#1c1c1c" text-anchor="middle" font-weight="normal" >3</text>
<line x1="145.4" y1="333.1" x2="145.4" y2="335.6" stroke="#5a5a5a" stroke-width="1"/>
<text x="145.4" y="343.1" font-size="7.9" fill="#1c1c1c" text-anchor="middle" font-weight="normal" >4</text>
<line x1="173.2" y1="333.1" x2="173.2" y2="335.6" stroke="#5a5a5a" stroke-width="1"/>
<text x="173.2" y="343.1" font-size="7.9" fill="#1c1c1c" text-anchor="middle" font-weight="normal" >5</text>
<line x1="48.1" y1="333.1" x2="48.1" y2="334.6" stroke="#5a5a5a" stroke-width="0.8"/>
<line x1="75.9" y1="333.1" x2="75.9" y2="334.6" stroke="#5a5a5a" stroke-width="0.8"/>
<line x1="103.7" y1="333.1" x2="103.7" y2="334.6" stroke="#5a5a5a" stroke-width="0.8"/>
<line x1="131.5" y1="333.1" x2="131.5" y2="334.6" stroke="#5a5a5a" stroke-width="0.8"/>
<line x1="159.3" y1="333.1" x2="159.3" y2="334.6" stroke="#5a5a5a" stroke-width="0.8"/>
<line x1="201.4" y1="333.6" x2="201.4" y2="193.6" stroke="#5a5a5a" stroke-width="1"/>
<line x1="200.9" y1="333.6" x2="340" y2="333.6" stroke="#5a5a5a" stroke-width="1"/>
<line x1="198.9" y1="333.6" x2="201.4" y2="333.6" stroke="#5a5a5a" stroke-width="1"/>
<text x="197.2" y="336.4" font-size="7.9" fill="#1c1c1c" text-anchor="end" font-weight="normal" >0</text>
<line x1="198.9" y1="305.6" x2="201.4" y2="305.6" stroke="#5a5a5a" stroke-width="1"/>
<text x="197.2" y="308.4" font-size="7.9" fill="#1c1c1c" text-anchor="end" font-weight="normal" >1</text>
<line x1="198.9" y1="277.6" x2="201.4" y2="277.6" stroke="#5a5a5a" stroke-width="1"/>
<text x="197.2" y="280.4" font-size="7.9" fill="#1c1c1c" text-anchor="end" font-weight="normal" >2</text>
<line x1="198.9" y1="249.6" x2="201.4" y2="249.6" stroke="#5a5a5a" stroke-width="1"/>
<text x="197.2" y="252.4" font-size="7.9" fill="#1c1c1c" text-anchor="end" font-weight="normal" >3</text>
<line x1="198.9" y1="221.6" x2="201.4" y2="221.6" stroke="#5a5a5a" stroke-width="1"/>
<text x="197.2" y="224.4" font-size="7.9" fill="#1c1c1c" text-anchor="end" font-weight="normal" >4</text>
<line x1="198.9" y1="193.6" x2="201.4" y2="193.6" stroke="#5a5a5a" stroke-width="1"/>
<text x="197.2" y="196.4" font-size="7.9" fill="#1c1c1c" text-anchor="end" font-weight="normal" >5</text>
<line x1="199.9" y1="319.6" x2="201.4" y2="319.6" stroke="#5a5a5a" stroke-width="0.8"/>
<line x1="199.9" y1="291.6" x2="201.4" y2="291.6" stroke="#5a5a5a" stroke-width="0.8"/>
<line x1="199.9" y1="263.6" x2="201.4" y2="263.6" stroke="#5a5a5a" stroke-width="0.8"/>
<line x1="199.9" y1="235.6" x2="201.4" y2="235.6" stroke="#5a5a5a" stroke-width="0.8"/>
<line x1="199.9" y1="207.6" x2="201.4" y2="207.6" stroke="#5a5a5a" stroke-width="0.8"/>
<line x1="201.4" y1="333.6" x2="201.4" y2="336.1" stroke="#5a5a5a" stroke-width="1"/>
<text x="201.4" y="343.6" font-size="7.9" fill="#1c1c1c" text-anchor="middle" font-weight="normal" >0</text>
<line x1="229.1" y1="333.6" x2="229.1" y2="336.1" stroke="#5a5a5a" stroke-width="1"/>
<text x="229.1" y="343.6" font-size="7.9" fill="#1c1c1c" text-anchor="middle" font-weight="normal" >1</text>
<line x1="256.8" y1="333.6" x2="256.8" y2="336.1" stroke="#5a5a5a" stroke-width="1"/>
<text x="256.8" y="343.6" font-size="7.9" fill="#1c1c1c" text-anchor="middle" font-weight="normal" >2</text>
<line x1="284.6" y1="333.6" x2="284.6" y2="336.1" stroke="#5a5a5a" stroke-width="1"/>
<text x="284.6" y="343.6" font-size="7.9" fill="#1c1c1c" text-anchor="middle" font-weight="normal" >3</text>
<line x1="312.3" y1="333.6" x2="312.3" y2="336.1" stroke="#5a5a5a" stroke-width="1"/>
<text x="312.3" y="343.6" font-size="7.9" fill="#1c1c1c" text-anchor="middle" font-weight="normal" >4</text>
<line x1="340" y1="333.6" x2="340" y2="336.1" stroke="#5a5a5a" stroke-width="1"/>
<text x="340" y="343.6" font-size="7.9" fill="#1c1c1c" text-anchor="middle" font-weight="normal" >5</text>
<line x1="215.3" y1="333.6" x2="215.3" y2="335.1" stroke="#5a5a5a" stroke-width="0.8"/>
<line x1="243" y1="333.6" x2="243" y2="335.1" stroke="#5a5a5a" stroke-width="0.8"/>
<line x1="270.7" y1="333.6" x2="270.7" y2="335.1" stroke="#5a5a5a" stroke-width="0.8"/>
<line x1="298.4" y1="333.6" x2="298.4" y2="335.1" stroke="#5a5a5a" stroke-width="0.8"/>
<line x1="326.1" y1="333.6" x2="326.1" y2="335.1" stroke="#5a5a5a" stroke-width="0.8"/>
<line x1="367.8" y1="333.5" x2="367.8" y2="193.5" stroke="#5a5a5a" stroke-width="1"/>
<line x1="367.3" y1="333.5" x2="506.3" y2="333.5" stroke="#5a5a5a" stroke-width="1"/>
<line x1="365.3" y1="333.5" x2="367.8" y2="333.5" stroke="#5a5a5a" stroke-width="1"/>
<text x="363.6" y="336.3" font-size="7.9" fill="#1c1c1c" text-anchor="end" font-weight="normal" >0</text>
<line x1="365.3" y1="305.5" x2="367.8" y2="305.5" stroke="#5a5a5a" stroke-width="1"/>
<text x="363.6" y="308.3" font-size="7.9" fill="#1c1c1c" text-anchor="end" font-weight="normal" >1</text>
<line x1="365.3" y1="277.5" x2="367.8" y2="277.5" stroke="#5a5a5a" stroke-width="1"/>
<text x="363.6" y="280.3" font-size="7.9" fill="#1c1c1c" text-anchor="end" font-weight="normal" >2</text>
<line x1="365.3" y1="249.5" x2="367.8" y2="249.5" stroke="#5a5a5a" stroke-width="1"/>
<text x="363.6" y="252.3" font-size="7.9" fill="#1c1c1c" text-anchor="end" font-weight="normal" >3</text>
<line x1="365.3" y1="221.5" x2="367.8" y2="221.5" stroke="#5a5a5a" stroke-width="1"/>
<text x="363.6" y="224.3" font-size="7.9" fill="#1c1c1c" text-anchor="end" font-weight="normal" >4</text>
<line x1="365.3" y1="193.5" x2="367.8" y2="193.5" stroke="#5a5a5a" stroke-width="1"/>
<text x="363.6" y="196.3" font-size="7.9" fill="#1c1c1c" text-anchor="end" font-weight="normal" >5</text>
<line x1="366.3" y1="319.5" x2="367.8" y2="319.5" stroke="#5a5a5a" stroke-width="0.8"/>
<line x1="366.3" y1="291.5" x2="367.8" y2="291.5" stroke="#5a5a5a" stroke-width="0.8"/>
<line x1="366.3" y1="263.5" x2="367.8" y2="263.5" stroke="#5a5a5a" stroke-width="0.8"/>
<line x1="366.3" y1="235.5" x2="367.8" y2="235.5" stroke="#5a5a5a" stroke-width="0.8"/>
<line x1="366.3" y1="207.5" x2="367.8" y2="207.5" stroke="#5a5a5a" stroke-width="0.8"/>
<line x1="367.8" y1="333.5" x2="367.8" y2="336" stroke="#5a5a5a" stroke-width="1"/>
<text x="367.8" y="343.5" font-size="7.9" fill="#1c1c1c" text-anchor="middle" font-weight="normal" >0</text>
<line x1="395.5" y1="333.5" x2="395.5" y2="336" stroke="#5a5a5a" stroke-width="1"/>
<text x="395.5" y="343.5" font-size="7.9" fill="#1c1c1c" text-anchor="middle" font-weight="normal" >1</text>
<line x1="423.2" y1="333.5" x2="423.2" y2="336" stroke="#5a5a5a" stroke-width="1"/>
<text x="423.2" y="343.5" font-size="7.9" fill="#1c1c1c" text-anchor="middle" font-weight="normal" >2</text>
<line x1="450.9" y1="333.5" x2="450.9" y2="336" stroke="#5a5a5a" stroke-width="1"/>
<text x="450.9" y="343.5" font-size="7.9" fill="#1c1c1c" text-anchor="middle" font-weight="normal" >3</text>
<line x1="478.6" y1="333.5" x2="478.6" y2="336" stroke="#5a5a5a" stroke-width="1"/>
<text x="478.6" y="343.5" font-size="7.9" fill="#1c1c1c" text-anchor="middle" font-weight="normal" >4</text>
<line x1="506.3" y1="333.5" x2="506.3" y2="336" stroke="#5a5a5a" stroke-width="1"/>
<text x="506.3" y="343.5" font-size="7.9" fill="#1c1c1c" text-anchor="middle" font-weight="normal" >5</text>
<line x1="381.7" y1="333.5" x2="381.7" y2="335" stroke="#5a5a5a" stroke-width="0.8"/>
<line x1="409.4" y1="333.5" x2="409.4" y2="335" stroke="#5a5a5a" stroke-width="0.8"/>
<line x1="437.1" y1="333.5" x2="437.1" y2="335" stroke="#5a5a5a" stroke-width="0.8"/>
<line x1="464.8" y1="333.5" x2="464.8" y2="335" stroke="#5a5a5a" stroke-width="0.8"/>
<line x1="492.4" y1="333.5" x2="492.4" y2="335" stroke="#5a5a5a" stroke-width="0.8"/>
<line x1="532.9" y1="333" x2="532.9" y2="193" stroke="#5a5a5a" stroke-width="1"/>
<line x1="532.4" y1="333" x2="670.6" y2="333" stroke="#5a5a5a" stroke-width="1"/>
<line x1="530.4" y1="333" x2="532.9" y2="333" stroke="#5a5a5a" stroke-width="1"/>
<text x="528.7" y="335.8" font-size="7.9" fill="#1c1c1c" text-anchor="end" font-weight="normal" >0</text>
<line x1="530.4" y1="305" x2="532.9" y2="305" stroke="#5a5a5a" stroke-width="1"/>
<text x="528.7" y="307.8" font-size="7.9" fill="#1c1c1c" text-anchor="end" font-weight="normal" >1</text>
<line x1="530.4" y1="277" x2="532.9" y2="277" stroke="#5a5a5a" stroke-width="1"/>
<text x="528.7" y="279.8" font-size="7.9" fill="#1c1c1c" text-anchor="end" font-weight="normal" >2</text>
<line x1="530.4" y1="249" x2="532.9" y2="249" stroke="#5a5a5a" stroke-width="1"/>
<text x="528.7" y="251.8" font-size="7.9" fill="#1c1c1c" text-anchor="end" font-weight="normal" >3</text>
<line x1="530.4" y1="221" x2="532.9" y2="221" stroke="#5a5a5a" stroke-width="1"/>
<text x="528.7" y="223.8" font-size="7.9" fill="#1c1c1c" text-anchor="end" font-weight="normal" >4</text>
<line x1="530.4" y1="193" x2="532.9" y2="193" stroke="#5a5a5a" stroke-width="1"/>
<text x="528.7" y="195.8" font-size="7.9" fill="#1c1c1c" text-anchor="end" font-weight="normal" >5</text>
<line x1="531.4" y1="319" x2="532.9" y2="319" stroke="#5a5a5a" stroke-width="0.8"/>
<line x1="531.4" y1="291" x2="532.9" y2="291" stroke="#5a5a5a" stroke-width="0.8"/>
<line x1="531.4" y1="263" x2="532.9" y2="263" stroke="#5a5a5a" stroke-width="0.8"/>
<line x1="531.4" y1="235" x2="532.9" y2="235" stroke="#5a5a5a" stroke-width="0.8"/>
<line x1="531.4" y1="207" x2="532.9" y2="207" stroke="#5a5a5a" stroke-width="0.8"/>
<line x1="532.9" y1="333" x2="532.9" y2="335.5" stroke="#5a5a5a" stroke-width="1"/>
<text x="532.9" y="343" font-size="7.9" fill="#1c1c1c" text-anchor="middle" font-weight="normal" >0</text>
<line x1="560.4" y1="333" x2="560.4" y2="335.5" stroke="#5a5a5a" stroke-width="1"/>
<text x="560.4" y="343" font-size="7.9" fill="#1c1c1c" text-anchor="middle" font-weight="normal" >1</text>
<line x1="588" y1="333" x2="588" y2="335.5" stroke="#5a5a5a" stroke-width="1"/>
<text x="588" y="343" font-size="7.9" fill="#1c1c1c" text-anchor="middle" font-weight="normal" >2</text>
<line x1="615.5" y1="333" x2="615.5" y2="335.5" stroke="#5a5a5a" stroke-width="1"/>
<text x="615.5" y="343" font-size="7.9" fill="#1c1c1c" text-anchor="middle" font-weight="normal" >3</text>
<line x1="643.1" y1="333" x2="643.1" y2="335.5" stroke="#5a5a5a" stroke-width="1"/>
<text x="643.1" y="343" font-size="7.9" fill="#1c1c1c" text-anchor="middle" font-weight="normal" >4</text>
<line x1="670.6" y1="333" x2="670.6" y2="335.5" stroke="#5a5a5a" stroke-width="1"/>
<text x="670.6" y="343" font-size="7.9" fill="#1c1c1c" text-anchor="middle" font-weight="normal" >5</text>
<line x1="546.7" y1="333" x2="546.7" y2="334.5" stroke="#5a5a5a" stroke-width="0.8"/>
<line x1="574.2" y1="333" x2="574.2" y2="334.5" stroke="#5a5a5a" stroke-width="0.8"/>
<line x1="601.8" y1="333" x2="601.8" y2="334.5" stroke="#5a5a5a" stroke-width="0.8"/>
<line x1="629.3" y1="333" x2="629.3" y2="334.5" stroke="#5a5a5a" stroke-width="0.8"/>
<line x1="656.9" y1="333" x2="656.9" y2="334.5" stroke="#5a5a5a" stroke-width="0.8"/>
<text x="38.9" y="186.4" font-size="14.5" fill="#000" text-anchor="start" font-weight="normal" >e</text>
<text x="205.1" y="189.8" font-size="14.5" fill="#000" text-anchor="start" font-weight="normal" >f</text>
<text x="375.5" y="187.4" font-size="14.5" fill="#000" text-anchor="start" font-weight="normal" >g</text>
<text x="536.9" y="189.8" font-size="14.5" fill="#000" text-anchor="start" font-weight="normal" >h</text>
<text transform="translate(19.6,259.4) rotate(-90)" font-size="13.5" fill="#2a2a2a" text-anchor="middle" textLength="41" lengthAdjust="spacingAndGlyphs">V<tspan font-size="9" dy="2.6">out</tspan><tspan dy="-2.6"> (V)</tspan></text>
<rect x="57.9" y="225.2" width="18.6" height="18.6" fill="#fbe3a0" opacity="1.0"/>
<rect x="61.2" y="266.9" width="4.7" height="5.3" fill="#a9bfd9" opacity="1.0"/>
<path d="M34.2,194 L40.3,194.2 L45.1,194.8 L49.8,196 L54.3,197.7 L58.2,199.9 L61.5,202.4 L64.6,205.5 L67.6,209.3 L70.7,214 L73.8,219.5 L77.1,226.6 L80.2,233.9 L84.6,246.4 L92.1,271.6 L94.1,277 L96,281.5 L98.5,286.2 L101.6,290.6 L108.6,299.3 L113.3,304.2 L117.5,307.7 L121.7,310.5 L126.1,312.7 L131.4,314.6 L140.9,317 L152,319.4 L160.9,320.9 L173.2,322.5" fill="none" stroke="#f3bd16" stroke-width="1.8" stroke-linejoin="round" />
<path d="M173.2,333.1 L173,327.5 L172.6,321.9 L171.9,319.6 L170.2,315.9 L168,312.2 L164.8,308 L160.9,303.8 L157.5,301 L154,298.7 L150,296.4 L144.8,293.6 L140.7,291.7 L108.9,279.6 L94.6,274.5 L85.6,270.8 L82.2,268.9 L78,266.2 L71.9,261.5 L68.3,258.3 L64.4,253.6 L61.3,249 L58.1,242.9 L55.7,237.3 L54.1,232.2 L48.6,212.2 L46.7,202.9 L45.3,194.1" fill="none" stroke="#f3bd16" stroke-width="1.7" stroke-linejoin="round" stroke-dasharray="4.2 3.6" />
<path d="M34.2,249.6 L41.2,249.9 L46.4,250.8 L48.7,251.6 L51,252.7 L53.4,254.1 L55.5,255.8 L60.4,260.4 L65.3,266.4 L69.3,272.3 L76.8,284.8 L79.8,289.5 L83.3,294.2 L87,298.3 L94.2,304.7 L100.8,309.6 L107.5,313.4 L117.3,317.8" fill="none" stroke="#285690" stroke-width="1.8" stroke-linejoin="round" />
<path d="M117.6,333.1 L117.2,326.1 L116.5,321.7 L114.5,316.4 L113.6,314.7 L112.1,312.7 L108.4,308.6 L105.1,305.2 L101.3,301.9 L96.7,298.2 L93.4,296 L88.3,292.9 L77.6,287.4 L72.8,284 L69,280.7 L66.5,277.9 L61.8,272 L57.7,267.6 L56.2,265.6 L54.7,262.3 L51.8,253.9 L49.5,249.7" fill="none" stroke="#285690" stroke-width="1.7" stroke-linejoin="round" stroke-dasharray="4.2 3.6" />
<path d="M34.2,305.3 L37.9,305.4 L41.9,305.9 L47.4,306.7 L49.7,307.3 L53.2,308.8 L58,311.5 L59.9,312.9 L62.6,315" fill="none" stroke="#de1b24" stroke-width="1.8" stroke-linejoin="round" />
<path d="M62,333.1 L62,323.8 L61.7,321.5 L61.1,318.9 L60.5,317.7 L58.9,315.4 L55.1,311 L53.4,307.9 L52.3,305.3" fill="none" stroke="#de1b24" stroke-width="1.7" stroke-linejoin="round" stroke-dasharray="4.2 3.6" />
<text x="66.6" y="237.8" font-size="7.6" fill="#1c1c1c" text-anchor="middle" font-weight="normal" >26%</text>
<text x="55.3" y="281" font-size="7.6" fill="#1c1c1c" text-anchor="middle" font-weight="normal" >14%</text>
<rect x="87.6" y="195" width="90.5" height="12" fill="#fff" stroke="#555" stroke-width="0.9"/>
<text x="133.2" y="203.9" font-size="8.1" fill="#1e1e1e" text-anchor="middle" font-weight="normal" textLength="88" lengthAdjust="spacingAndGlyphs">ISO-TFT + 6MΩ Resistor</text>
<rect x="131.9" y="220.4" width="40.6" height="30.2" fill="#fff" stroke="#555" stroke-width="0.9"/>
<line x1="132.9" y1="225.4" x2="147.9" y2="225.4" stroke="#f3bd16" stroke-width="1.8"/>
<text x="148.2" y="227.7" font-size="6.5" fill="#555" text-anchor="start" font-weight="normal" >V<tspan font-size="4.6" dy="1.5">DD</tspan><tspan dy="-1.5">=5V</tspan></text>
<line x1="132.9" y1="235.2" x2="147.9" y2="235.2" stroke="#285690" stroke-width="1.8"/>
<text x="148.2" y="237.5" font-size="6.5" fill="#555" text-anchor="start" font-weight="normal" >V<tspan font-size="4.6" dy="1.5">DD</tspan><tspan dy="-1.5">=3V</tspan></text>
<line x1="132.9" y1="244.9" x2="147.9" y2="244.9" stroke="#de1b24" stroke-width="1.8"/>
<text x="148.2" y="247.2" font-size="6.5" fill="#555" text-anchor="start" font-weight="normal" >V<tspan font-size="4.6" dy="1.5">DD</tspan><tspan dy="-1.5">=1V</tspan></text>
<rect x="228.8" y="204" width="31.7" height="30.7" fill="#fbe3a0" opacity="1.0"/>
<rect x="227.3" y="255.2" width="11.7" height="11" fill="#a9bfd9" opacity="1.0"/>
<path d="M201.4,193.6 L218.5,193.7 L225.7,194 L240.1,195 L248.1,196.1 L253.6,197.5 L259.7,200.3 L264.1,203.1 L268.5,206.9 L270.4,208.9 L271.8,210.8 L275.4,216.9 L278.2,222.8 L280.1,228.2 L281.2,233.6 L285.3,263.6 L288.4,282.1 L289.2,285.9 L290.3,289.3 L292,293.4 L293.9,297.2 L298.6,304.4 L302.4,309.6 L305.8,313.1 L309.9,316.5 L316,320.4 L323.7,324.3 L332,327.9 L339.2,330.2" fill="none" stroke="#f3bd16" stroke-width="1.8" stroke-linejoin="round" />
<path d="M340,333.6 L339.3,330.3 L339,327.5 L338.2,310.7 L337.5,302.2 L336.6,294.3 L335.5,288.2 L333.7,281.6 L331.2,275.5 L328.7,271.3 L325.4,267.6 L321.2,263.8 L317.3,261.5 L310.1,258.2 L300,254.5 L293.5,252.6 L287.5,251.2 L268.2,248.4 L257.4,246.5 L250.9,245.1 L244.6,243.2 L239.2,241.4 L234.7,239.5 L230.2,237.1 L224.3,232.9 L219.6,228.7 L216,224.5 L212.1,218.9 L208.4,212.3 L205.7,206.2 L203.9,200.2 L202.8,193.6" fill="none" stroke="#f3bd16" stroke-width="1.7" stroke-linejoin="round" stroke-dasharray="4.2 3.6" />
<path d="M201.4,249.6 L217.2,249.9 L223.7,250.2 L226.6,250.5 L231.4,251.6 L239.2,253.7 L242.4,255.1 L244.7,256.8 L247.6,259.8 L251.2,264.6 L253.9,268.9 L256.6,274.1 L258.9,279.8 L266.9,303.7 L268.4,307.4 L270.2,310.8 L273.2,315.5 L276.6,319.6 L280.9,323.9 L284.6,326.6" fill="none" stroke="#285690" stroke-width="1.8" stroke-linejoin="round" />
<path d="M284.6,333.6 L284.3,325.2 L283.9,321 L282.6,311.1 L281.1,303.8 L279.5,299.3 L277.2,294.5 L274.7,290.3 L272.1,287 L268.2,283.3 L264.4,281.1 L260.2,279.1 L250.1,275.4 L241.7,271.8 L229,265.6 L219,260 L215,257.5 L212.5,255.5 L209.9,252.4 L208.3,249.6" fill="none" stroke="#285690" stroke-width="1.7" stroke-linejoin="round" stroke-dasharray="4.2 3.6" />
<path d="M201.4,305.6 L209.6,305.9 L215.6,306.5 L225.1,309.2 L227.1,310.1 L229.1,311.5" fill="none" stroke="#de1b24" stroke-width="1.8" stroke-linejoin="round" />
<path d="M229.1,311.5 L229.1,333.6" fill="none" stroke="#de1b24" stroke-width="1.7" stroke-linejoin="round" stroke-dasharray="4.2 3.6" />
<text x="244.3" y="223" font-size="8" fill="#1c1c1c" text-anchor="middle" font-weight="normal" >44%</text>
<text x="224.4" y="278" font-size="8" fill="#1c1c1c" text-anchor="middle" font-weight="normal" >28%</text>
<rect x="280.7" y="197.2" width="65.4" height="29" fill="#fff" stroke="#555" stroke-width="0.9"/>
<text x="281.7" y="204" font-size="6.9" fill="#222" text-anchor="start" font-weight="normal" textLength="62.5" lengthAdjust="spacingAndGlyphs">ISO-TFT + SnO-TFT</text>
<text x="281.7" y="212.6" font-size="6.9" fill="#222" text-anchor="start" font-weight="normal" >(W/L)<tspan font-size="4.6" dy="1.8">p</tspan><tspan dy="-1.8">=100</tspan></text>
<text x="281.7" y="221.7" font-size="6.9" fill="#222" text-anchor="start" font-weight="normal" >(W/L)<tspan font-size="4.6" dy="1.8">n</tspan><tspan dy="-1.8">=20</tspan></text>
<rect x="378.1" y="215" width="34.8" height="33.6" fill="#fbe3a0" opacity="1.0"/>
<rect x="380" y="261.8" width="18.4" height="18.1" fill="#a9bfd9" opacity="1.0"/>
<path d="M367.8,193.5 L381.4,193.5 L384.2,193.7 L391.4,194.8 L395.8,196.2 L401.7,199.1 L403.9,200.6 L406.1,202.4 L408,204.2 L409.4,205.9 L413.3,211.9 L416.6,218.3 L419.7,225.7 L421.9,232.8 L423.6,240.1 L425,248 L425.8,254.2 L426.6,262.4 L427.5,275.8 L428,281.9 L429.1,291.7 L430.2,298.2 L432.2,304.2 L434.1,308.6 L436.4,312.1 L439.4,315.5 L443.9,319.3 L446.3,321 L448.8,322.4 L456.1,325.3 L464.1,327.7 L473,329.7 L486.3,331.5 L497.1,332.6 L506.3,332.9" fill="none" stroke="#f3bd16" stroke-width="1.8" stroke-linejoin="round" />
<path d="M506.3,333.5 L505.5,331.6 L505.3,329.8 L504.6,317.6 L504.2,313.4 L503.3,309.6 L501.8,305.9 L499.7,301.7 L496.8,297.9 L491.8,293.2 L487.2,290 L481.1,286.7 L474.5,283.9 L467.6,281.5 L460.4,279.7 L453.3,278.2 L431.6,275.4 L416.4,273.1 L408.1,271.7 L401.8,270.3 L399.2,269.4 L396,267.5 L386.3,260 L382.6,256.7 L378.7,252 L375.4,246.9 L373.7,243.1 L372.2,237.5 L370.6,229.1 L369.1,217.4 L368.4,207.5 L367.8,193.5" fill="none" stroke="#f3bd16" stroke-width="1.7" stroke-linejoin="round" stroke-dasharray="4.2 3.6" />
<path d="M367.8,249.5 L381.1,249.8 L384.6,250.3 L388,251.3 L391.6,252.8 L394.1,254.4 L396.6,256.5 L398.3,258.4 L399.9,260.9 L401.4,263.8 L402.6,266.8 L404.3,273.1 L405.8,283.5 L406.8,288.9 L410.4,304.8 L411.4,308 L413.4,312.7 L415.3,316.3 L417.1,319.2 L418.9,321.3 L422.4,324.2 L425.6,326.2 L428.8,327.7 L434.7,329.3 L440.9,330.6 L446.1,331.3 L450.9,331.5" fill="none" stroke="#285690" stroke-width="1.8" stroke-linejoin="round" />
<path d="M450.9,333.5 L450.7,327.3 L450.3,320.9 L449.7,318 L448.7,315.2 L446.7,311 L445.1,308.8 L442.2,306 L438.5,303.2 L435.4,301.2 L432,299.5 L427.2,297.5 L422.3,295.9 L417.4,294.4 L402.1,291.6 L391.9,289.1 L384.5,286.9 L382,285.7 L380.9,284.9 L379.3,282.9 L377.7,280.4 L371.5,266.1 L370.6,263.3 L369.3,257.1 L368.7,253.2 L368.4,249.5" fill="none" stroke="#285690" stroke-width="1.7" stroke-linejoin="round" stroke-dasharray="4.2 3.6" />
<path d="M367.8,305.5 L371,305.7 L374.5,306.2 L377,306.7 L378.5,307.5 L382.9,311.5 L386.5,316.2 L388.2,318 L395.5,324.5" fill="none" stroke="#de1b24" stroke-width="1.8" stroke-linejoin="round" />
<path d="M395.5,327.9 L395.5,333.5" fill="none" stroke="#de1b24" stroke-width="1.7" stroke-linejoin="round" stroke-dasharray="4.2 3.6" />
<path d="M506.3,332.9 L506.3,333.5" fill="none" stroke="#f3bd16" stroke-width="1.7" stroke-linejoin="round" stroke-dasharray="4.2 3.6" />
<path d="M450.9,331.5 L450.9,333.5" fill="none" stroke="#285690" stroke-width="1.7" stroke-linejoin="round" stroke-dasharray="4.2 3.6" />
<text x="396.2" y="235.2" font-size="8" fill="#1c1c1c" text-anchor="middle" font-weight="normal" >52%</text>
<text x="388.6" y="276.6" font-size="8" fill="#1c1c1c" text-anchor="middle" font-weight="normal" >44%</text>
<text x="390.3" y="311" font-size="8" fill="#1c1c1c" text-anchor="middle" font-weight="normal" >4%</text>
<rect x="439.2" y="196.4" width="66.2" height="29" fill="#fff" stroke="#555" stroke-width="0.9"/>
<text x="440.3" y="203.3" font-size="6.9" fill="#222" text-anchor="start" font-weight="normal" textLength="63" lengthAdjust="spacingAndGlyphs">ISO-TFT + SnO-TFT</text>
<text x="440.3" y="212" font-size="6.9" fill="#222" text-anchor="start" font-weight="normal" >(W/L)<tspan font-size="4.6" dy="1.8">p</tspan><tspan dy="-1.8">=20</tspan></text>
<text x="440.3" y="221.1" font-size="6.9" fill="#222" text-anchor="start" font-weight="normal" >(W/L)<tspan font-size="4.6" dy="1.8">n</tspan><tspan dy="-1.8">=20</tspan></text>
<rect x="545.1" y="206.8" width="39.8" height="39.3" fill="#fbe3a0" opacity="1.0"/>
<rect x="544.1" y="261.9" width="22.8" height="18.9" fill="#a9bfd9" opacity="1.0"/>
<rect x="537.2" y="308.7" width="5.2" height="4.7" fill="#f4a6a6" opacity="1.0"/>
<path d="M532.9,193 L544.8,193.1 L557.2,193.6 L560.2,193.9 L563.5,194.6 L569.9,196.7 L577.6,200.2 L582.3,203.3 L586.7,207.3 L590.3,211.2 L593.1,215.3 L595.6,220.4 L596.7,223.3 L597.5,226.2 L598.9,232.6 L600.5,243 L603.8,276.7 L606.1,290 L607.7,297.2 L609.6,303.4 L612.4,309.5 L615.2,314.2 L616.8,316.5 L618.8,318.7 L623.7,323 L629,326.6 L631.5,327.8 L633.9,328.8 L641.1,330.6 L647.7,331.7 L659.9,332.5 L670.6,332.7" fill="none" stroke="#f3bd16" stroke-width="1.8" stroke-linejoin="round" />
<path d="M670.6,333 L670.6,309.1 L669.9,302.6 L668.7,295.5 L667.8,293.2 L666.6,290.9 L663.1,285.7 L659.9,282 L655.7,278.7 L639.5,268.9 L636.5,267.4 L632.4,266 L626.9,264.6 L623.1,264.2 L604.7,262.8 L584.3,260.9 L575.5,260 L569.8,259 L561.5,256.7 L555.7,254.3 L553.2,252.9 L551.1,251.5 L548.2,249.2 L545.7,246.8 L542.5,243.1 L539.9,238.9 L536.4,231.4 L535.2,228.1 L534.4,225.3 L533.8,221.6 L533.4,215 L533,203.8 L532.9,193" fill="none" stroke="#f3bd16" stroke-width="1.7" stroke-linejoin="round" stroke-dasharray="4.2 3.6" />
<path d="M532.9,249 L546.8,249.2 L558.1,249.7 L560.2,250.1 L562.4,250.9 L564.5,252.1 L566.5,253.5 L567.5,254.9 L568.5,257.2 L570.8,264.9 L573,277.9 L575,296.1 L575.8,302.1 L577.3,309 L578.6,314 L580.1,318.5 L581.4,321.2 L584.1,324.7 L586.7,327.5 L589.2,329.4 L591.7,330.7 L595.2,331.3 L602.6,332.2 L609.1,332.6 L615.5,332.7" fill="none" stroke="#285690" stroke-width="1.8" stroke-linejoin="round" />
<path d="M615.5,333 L615.8,316 L615.5,313.5 L614.4,310.8 L612.6,307.9 L609.7,304.3 L606.7,301.1 L603.7,298.9 L599.7,296.7 L594.9,294.8 L588.9,292.8 L584.7,292.1 L571.8,290.4 L559.2,288.2 L551,286.5 L547.5,285.3 L545.6,283.8 L543.8,281.9 L538.7,273.6 L536.5,269.7 L534.9,266.3 L533.7,263.1 L532.9,260.2" fill="none" stroke="#285690" stroke-width="1.7" stroke-linejoin="round" stroke-dasharray="4.2 3.6" />
<path d="M532.9,305 L536.4,305.2 L540,306 L541.6,306.5 L542.9,307.6 L544.8,310.2 L546.3,317.6 L547.4,321.6 L548.6,324.7 L550.5,327.7 L552.4,330 L554.2,331.4 L557.5,332.4 L560.4,332.7" fill="none" stroke="#de1b24" stroke-width="1.9" stroke-linejoin="round" />
<path d="M556.9,323.2 L550.4,320.5 L541.3,317.1 L537.7,315.4 L535.1,314" fill="none" stroke="#de1b24" stroke-width="1.8" stroke-linejoin="round" stroke-dasharray="3 3.6" />
<path d="M560.4,333 L560.4,327.4" fill="none" stroke="#de1b24" stroke-width="1.8" stroke-linejoin="round" />
<text x="566.9" y="230" font-size="8" fill="#1c1c1c" text-anchor="middle" font-weight="normal" >59%</text>
<text x="555.5" y="275.5" font-size="8" fill="#1c1c1c" text-anchor="middle" font-weight="normal" >56%</text>
<text x="554" y="312" font-size="8" fill="#1c1c1c" text-anchor="middle" font-weight="normal" >46%</text>
<rect x="600.8" y="192" width="67" height="22" fill="#fff" stroke="#555" stroke-width="0.9"/>
<text x="602.2" y="200.4" font-size="8" fill="#111" text-anchor="start" font-weight="normal" stroke="#111" stroke-width="0.15" textLength="63.5" lengthAdjust="spacingAndGlyphs">ISO-TFT perfectly</text>
<text x="602.2" y="210.3" font-size="8" fill="#111" text-anchor="start" font-weight="normal" stroke="#111" stroke-width="0.15">matched</text>
<line x1="34.4" y1="496.3" x2="34.4" y2="357.6" stroke="#5a5a5a" stroke-width="1"/>
<line x1="33.9" y1="496.3" x2="172.9" y2="496.3" stroke="#5a5a5a" stroke-width="1"/>
<line x1="31.9" y1="495.4" x2="34.4" y2="495.4" stroke="#5a5a5a" stroke-width="1"/>
<text x="30.2" y="498.2" font-size="7.9" fill="#1c1c1c" text-anchor="end" font-weight="normal" >0.0u</text>
<line x1="31.9" y1="475.7" x2="34.4" y2="475.7" stroke="#5a5a5a" stroke-width="1"/>
<text x="30.2" y="478.6" font-size="7.9" fill="#1c1c1c" text-anchor="end" font-weight="normal" >0.2u</text>
<line x1="31.9" y1="456" x2="34.4" y2="456" stroke="#5a5a5a" stroke-width="1"/>
<text x="30.2" y="458.9" font-size="7.9" fill="#1c1c1c" text-anchor="end" font-weight="normal" >0.4u</text>
<line x1="31.9" y1="436.4" x2="34.4" y2="436.4" stroke="#5a5a5a" stroke-width="1"/>
<text x="30.2" y="439.2" font-size="7.9" fill="#1c1c1c" text-anchor="end" font-weight="normal" >0.6u</text>
<line x1="31.9" y1="416.7" x2="34.4" y2="416.7" stroke="#5a5a5a" stroke-width="1"/>
<text x="30.2" y="419.5" font-size="7.9" fill="#1c1c1c" text-anchor="end" font-weight="normal" >0.8u</text>
<line x1="31.9" y1="397" x2="34.4" y2="397" stroke="#5a5a5a" stroke-width="1"/>
<text x="30.2" y="399.8" font-size="7.9" fill="#1c1c1c" text-anchor="end" font-weight="normal" >1.0u</text>
<line x1="31.9" y1="377.3" x2="34.4" y2="377.3" stroke="#5a5a5a" stroke-width="1"/>
<text x="30.2" y="380.2" font-size="7.9" fill="#1c1c1c" text-anchor="end" font-weight="normal" >1.2u</text>
<line x1="31.9" y1="357.6" x2="34.4" y2="357.6" stroke="#5a5a5a" stroke-width="1"/>
<text x="30.2" y="360.5" font-size="7.9" fill="#1c1c1c" text-anchor="end" font-weight="normal" >1.4u</text>
<line x1="32.9" y1="485.6" x2="34.4" y2="485.6" stroke="#5a5a5a" stroke-width="0.8"/>
<line x1="32.9" y1="465.9" x2="34.4" y2="465.9" stroke="#5a5a5a" stroke-width="0.8"/>
<line x1="32.9" y1="446.2" x2="34.4" y2="446.2" stroke="#5a5a5a" stroke-width="0.8"/>
<line x1="32.9" y1="426.5" x2="34.4" y2="426.5" stroke="#5a5a5a" stroke-width="0.8"/>
<line x1="32.9" y1="406.8" x2="34.4" y2="406.8" stroke="#5a5a5a" stroke-width="0.8"/>
<line x1="32.9" y1="387.2" x2="34.4" y2="387.2" stroke="#5a5a5a" stroke-width="0.8"/>
<line x1="32.9" y1="367.5" x2="34.4" y2="367.5" stroke="#5a5a5a" stroke-width="0.8"/>
<line x1="34.4" y1="496.3" x2="34.4" y2="498.8" stroke="#5a5a5a" stroke-width="1"/>
<text x="34.4" y="505.9" font-size="7.9" fill="#1c1c1c" text-anchor="middle" font-weight="normal" >0</text>
<line x1="62.1" y1="496.3" x2="62.1" y2="498.8" stroke="#5a5a5a" stroke-width="1"/>
<text x="62.1" y="505.9" font-size="7.9" fill="#1c1c1c" text-anchor="middle" font-weight="normal" >1</text>
<line x1="89.8" y1="496.3" x2="89.8" y2="498.8" stroke="#5a5a5a" stroke-width="1"/>
<text x="89.8" y="505.9" font-size="7.9" fill="#1c1c1c" text-anchor="middle" font-weight="normal" >2</text>
<line x1="117.5" y1="496.3" x2="117.5" y2="498.8" stroke="#5a5a5a" stroke-width="1"/>
<text x="117.5" y="505.9" font-size="7.9" fill="#1c1c1c" text-anchor="middle" font-weight="normal" >3</text>
<line x1="145.2" y1="496.3" x2="145.2" y2="498.8" stroke="#5a5a5a" stroke-width="1"/>
<text x="145.2" y="505.9" font-size="7.9" fill="#1c1c1c" text-anchor="middle" font-weight="normal" >4</text>
<line x1="172.9" y1="496.3" x2="172.9" y2="498.8" stroke="#5a5a5a" stroke-width="1"/>
<text x="172.9" y="505.9" font-size="7.9" fill="#1c1c1c" text-anchor="middle" font-weight="normal" >5</text>
<line x1="48.2" y1="496.3" x2="48.2" y2="497.8" stroke="#5a5a5a" stroke-width="0.8"/>
<line x1="75.9" y1="496.3" x2="75.9" y2="497.8" stroke="#5a5a5a" stroke-width="0.8"/>
<line x1="103.7" y1="496.3" x2="103.7" y2="497.8" stroke="#5a5a5a" stroke-width="0.8"/>
<line x1="131.3" y1="496.3" x2="131.3" y2="497.8" stroke="#5a5a5a" stroke-width="0.8"/>
<line x1="159" y1="496.3" x2="159" y2="497.8" stroke="#5a5a5a" stroke-width="0.8"/>
<text x="103.7" y="518.9" font-size="13.4" fill="#2a2a2a" text-anchor="middle" font-weight="normal" textLength="34.4" lengthAdjust="spacingAndGlyphs">V<tspan font-size="9.2" dy="2.8">in</tspan><tspan dy="-2.8"> (V)</tspan></text>
<line x1="200.7" y1="497.8" x2="200.7" y2="357.8" stroke="#5a5a5a" stroke-width="1"/>
<line x1="200.2" y1="497.8" x2="340.2" y2="497.8" stroke="#5a5a5a" stroke-width="1"/>
<line x1="198.2" y1="496.9" x2="200.7" y2="496.9" stroke="#5a5a5a" stroke-width="1"/>
<text x="196.5" y="499.7" font-size="7.9" fill="#1c1c1c" text-anchor="end" font-weight="normal" >0.0u</text>
<line x1="198.2" y1="477" x2="200.7" y2="477" stroke="#5a5a5a" stroke-width="1"/>
<text x="196.5" y="479.9" font-size="7.9" fill="#1c1c1c" text-anchor="end" font-weight="normal" >0.2u</text>
<line x1="198.2" y1="457.2" x2="200.7" y2="457.2" stroke="#5a5a5a" stroke-width="1"/>
<text x="196.5" y="460" font-size="7.9" fill="#1c1c1c" text-anchor="end" font-weight="normal" >0.4u</text>
<line x1="198.2" y1="437.3" x2="200.7" y2="437.3" stroke="#5a5a5a" stroke-width="1"/>
<text x="196.5" y="440.1" font-size="7.9" fill="#1c1c1c" text-anchor="end" font-weight="normal" >0.6u</text>
<line x1="198.2" y1="417.4" x2="200.7" y2="417.4" stroke="#5a5a5a" stroke-width="1"/>
<text x="196.5" y="420.3" font-size="7.9" fill="#1c1c1c" text-anchor="end" font-weight="normal" >0.8u</text>
<line x1="198.2" y1="397.5" x2="200.7" y2="397.5" stroke="#5a5a5a" stroke-width="1"/>
<text x="196.5" y="400.4" font-size="7.9" fill="#1c1c1c" text-anchor="end" font-weight="normal" >1.0u</text>
<line x1="198.2" y1="377.7" x2="200.7" y2="377.7" stroke="#5a5a5a" stroke-width="1"/>
<text x="196.5" y="380.5" font-size="7.9" fill="#1c1c1c" text-anchor="end" font-weight="normal" >1.2u</text>
<line x1="198.2" y1="357.8" x2="200.7" y2="357.8" stroke="#5a5a5a" stroke-width="1"/>
<text x="196.5" y="360.7" font-size="7.9" fill="#1c1c1c" text-anchor="end" font-weight="normal" >1.4u</text>
<line x1="199.2" y1="487" x2="200.7" y2="487" stroke="#5a5a5a" stroke-width="0.8"/>
<line x1="199.2" y1="467.1" x2="200.7" y2="467.1" stroke="#5a5a5a" stroke-width="0.8"/>
<line x1="199.2" y1="447.2" x2="200.7" y2="447.2" stroke="#5a5a5a" stroke-width="0.8"/>
<line x1="199.2" y1="427.4" x2="200.7" y2="427.4" stroke="#5a5a5a" stroke-width="0.8"/>
<line x1="199.2" y1="407.5" x2="200.7" y2="407.5" stroke="#5a5a5a" stroke-width="0.8"/>
<line x1="199.2" y1="387.6" x2="200.7" y2="387.6" stroke="#5a5a5a" stroke-width="0.8"/>
<line x1="199.2" y1="367.7" x2="200.7" y2="367.7" stroke="#5a5a5a" stroke-width="0.8"/>
<line x1="200.7" y1="497.8" x2="200.7" y2="500.3" stroke="#5a5a5a" stroke-width="1"/>
<text x="200.7" y="507.4" font-size="7.9" fill="#1c1c1c" text-anchor="middle" font-weight="normal" >0</text>
<line x1="228.6" y1="497.8" x2="228.6" y2="500.3" stroke="#5a5a5a" stroke-width="1"/>
<text x="228.6" y="507.4" font-size="7.9" fill="#1c1c1c" text-anchor="middle" font-weight="normal" >1</text>
<line x1="256.5" y1="497.8" x2="256.5" y2="500.3" stroke="#5a5a5a" stroke-width="1"/>
<text x="256.5" y="507.4" font-size="7.9" fill="#1c1c1c" text-anchor="middle" font-weight="normal" >2</text>
<line x1="284.4" y1="497.8" x2="284.4" y2="500.3" stroke="#5a5a5a" stroke-width="1"/>
<text x="284.4" y="507.4" font-size="7.9" fill="#1c1c1c" text-anchor="middle" font-weight="normal" >3</text>
<line x1="312.3" y1="497.8" x2="312.3" y2="500.3" stroke="#5a5a5a" stroke-width="1"/>
<text x="312.3" y="507.4" font-size="7.9" fill="#1c1c1c" text-anchor="middle" font-weight="normal" >4</text>
<line x1="340.2" y1="497.8" x2="340.2" y2="500.3" stroke="#5a5a5a" stroke-width="1"/>
<text x="340.2" y="507.4" font-size="7.9" fill="#1c1c1c" text-anchor="middle" font-weight="normal" >5</text>
<line x1="214.6" y1="497.8" x2="214.6" y2="499.3" stroke="#5a5a5a" stroke-width="0.8"/>
<line x1="242.5" y1="497.8" x2="242.5" y2="499.3" stroke="#5a5a5a" stroke-width="0.8"/>
<line x1="270.4" y1="497.8" x2="270.4" y2="499.3" stroke="#5a5a5a" stroke-width="0.8"/>
<line x1="298.3" y1="497.8" x2="298.3" y2="499.3" stroke="#5a5a5a" stroke-width="0.8"/>
<line x1="326.2" y1="497.8" x2="326.2" y2="499.3" stroke="#5a5a5a" stroke-width="0.8"/>
<text x="270.4" y="520.4" font-size="13.4" fill="#2a2a2a" text-anchor="middle" font-weight="normal" textLength="34.4" lengthAdjust="spacingAndGlyphs">V<tspan font-size="9.2" dy="2.8">in</tspan><tspan dy="-2.8"> (V)</tspan></text>
<line x1="367.6" y1="496.5" x2="367.6" y2="357" stroke="#5a5a5a" stroke-width="1"/>
<line x1="367.1" y1="496.5" x2="507.6" y2="496.5" stroke="#5a5a5a" stroke-width="1"/>
<line x1="365.1" y1="495.6" x2="367.6" y2="495.6" stroke="#5a5a5a" stroke-width="1"/>
<text x="363.4" y="498.4" font-size="7.9" fill="#1c1c1c" text-anchor="end" font-weight="normal" >0.0u</text>
<line x1="365.1" y1="475.8" x2="367.6" y2="475.8" stroke="#5a5a5a" stroke-width="1"/>
<text x="363.4" y="478.6" font-size="7.9" fill="#1c1c1c" text-anchor="end" font-weight="normal" >0.2u</text>
<line x1="365.1" y1="456" x2="367.6" y2="456" stroke="#5a5a5a" stroke-width="1"/>
<text x="363.4" y="458.8" font-size="7.9" fill="#1c1c1c" text-anchor="end" font-weight="normal" >0.4u</text>
<line x1="365.1" y1="436.2" x2="367.6" y2="436.2" stroke="#5a5a5a" stroke-width="1"/>
<text x="363.4" y="439" font-size="7.9" fill="#1c1c1c" text-anchor="end" font-weight="normal" >0.6u</text>
<line x1="365.1" y1="416.4" x2="367.6" y2="416.4" stroke="#5a5a5a" stroke-width="1"/>
<text x="363.4" y="419.2" font-size="7.9" fill="#1c1c1c" text-anchor="end" font-weight="normal" >0.8u</text>
<line x1="365.1" y1="396.6" x2="367.6" y2="396.6" stroke="#5a5a5a" stroke-width="1"/>
<text x="363.4" y="399.4" font-size="7.9" fill="#1c1c1c" text-anchor="end" font-weight="normal" >1.0u</text>
<line x1="365.1" y1="376.8" x2="367.6" y2="376.8" stroke="#5a5a5a" stroke-width="1"/>
<text x="363.4" y="379.6" font-size="7.9" fill="#1c1c1c" text-anchor="end" font-weight="normal" >1.2u</text>
<line x1="365.1" y1="357" x2="367.6" y2="357" stroke="#5a5a5a" stroke-width="1"/>
<text x="363.4" y="359.8" font-size="7.9" fill="#1c1c1c" text-anchor="end" font-weight="normal" >1.4u</text>
<line x1="366.1" y1="485.7" x2="367.6" y2="485.7" stroke="#5a5a5a" stroke-width="0.8"/>
<line x1="366.1" y1="465.9" x2="367.6" y2="465.9" stroke="#5a5a5a" stroke-width="0.8"/>
<line x1="366.1" y1="446.1" x2="367.6" y2="446.1" stroke="#5a5a5a" stroke-width="0.8"/>
<line x1="366.1" y1="426.3" x2="367.6" y2="426.3" stroke="#5a5a5a" stroke-width="0.8"/>
<line x1="366.1" y1="406.5" x2="367.6" y2="406.5" stroke="#5a5a5a" stroke-width="0.8"/>
<line x1="366.1" y1="386.7" x2="367.6" y2="386.7" stroke="#5a5a5a" stroke-width="0.8"/>
<line x1="366.1" y1="366.9" x2="367.6" y2="366.9" stroke="#5a5a5a" stroke-width="0.8"/>
<line x1="367.6" y1="496.5" x2="367.6" y2="499" stroke="#5a5a5a" stroke-width="1"/>
<text x="367.6" y="506.1" font-size="7.9" fill="#1c1c1c" text-anchor="middle" font-weight="normal" >0</text>
<line x1="395.6" y1="496.5" x2="395.6" y2="499" stroke="#5a5a5a" stroke-width="1"/>
<text x="395.6" y="506.1" font-size="7.9" fill="#1c1c1c" text-anchor="middle" font-weight="normal" >1</text>
<line x1="423.6" y1="496.5" x2="423.6" y2="499" stroke="#5a5a5a" stroke-width="1"/>
<text x="423.6" y="506.1" font-size="7.9" fill="#1c1c1c" text-anchor="middle" font-weight="normal" >2</text>
<line x1="451.6" y1="496.5" x2="451.6" y2="499" stroke="#5a5a5a" stroke-width="1"/>
<text x="451.6" y="506.1" font-size="7.9" fill="#1c1c1c" text-anchor="middle" font-weight="normal" >3</text>
<line x1="479.6" y1="496.5" x2="479.6" y2="499" stroke="#5a5a5a" stroke-width="1"/>
<text x="479.6" y="506.1" font-size="7.9" fill="#1c1c1c" text-anchor="middle" font-weight="normal" >4</text>
<line x1="507.6" y1="496.5" x2="507.6" y2="499" stroke="#5a5a5a" stroke-width="1"/>
<text x="507.6" y="506.1" font-size="7.9" fill="#1c1c1c" text-anchor="middle" font-weight="normal" >5</text>
<line x1="381.6" y1="496.5" x2="381.6" y2="498" stroke="#5a5a5a" stroke-width="0.8"/>
<line x1="409.6" y1="496.5" x2="409.6" y2="498" stroke="#5a5a5a" stroke-width="0.8"/>
<line x1="437.6" y1="496.5" x2="437.6" y2="498" stroke="#5a5a5a" stroke-width="0.8"/>
<line x1="465.6" y1="496.5" x2="465.6" y2="498" stroke="#5a5a5a" stroke-width="0.8"/>
<line x1="493.6" y1="496.5" x2="493.6" y2="498" stroke="#5a5a5a" stroke-width="0.8"/>
<text x="437.6" y="519.1" font-size="13.4" fill="#2a2a2a" text-anchor="middle" font-weight="normal" textLength="34.4" lengthAdjust="spacingAndGlyphs">V<tspan font-size="9.2" dy="2.8">in</tspan><tspan dy="-2.8"> (V)</tspan></text>
<line x1="533.2" y1="495.9" x2="533.2" y2="357.8" stroke="#5a5a5a" stroke-width="1"/>
<line x1="532.7" y1="495.9" x2="670.7" y2="495.9" stroke="#5a5a5a" stroke-width="1"/>
<line x1="530.7" y1="495" x2="533.2" y2="495" stroke="#5a5a5a" stroke-width="1"/>
<text x="529" y="497.8" font-size="7.9" fill="#1c1c1c" text-anchor="end" font-weight="normal" >0.0u</text>
<line x1="530.7" y1="475.4" x2="533.2" y2="475.4" stroke="#5a5a5a" stroke-width="1"/>
<text x="529" y="478.2" font-size="7.9" fill="#1c1c1c" text-anchor="end" font-weight="normal" >0.2u</text>
<line x1="530.7" y1="455.8" x2="533.2" y2="455.8" stroke="#5a5a5a" stroke-width="1"/>
<text x="529" y="458.6" font-size="7.9" fill="#1c1c1c" text-anchor="end" font-weight="normal" >0.4u</text>
<line x1="530.7" y1="436.2" x2="533.2" y2="436.2" stroke="#5a5a5a" stroke-width="1"/>
<text x="529" y="439" font-size="7.9" fill="#1c1c1c" text-anchor="end" font-weight="normal" >0.6u</text>
<line x1="530.7" y1="416.6" x2="533.2" y2="416.6" stroke="#5a5a5a" stroke-width="1"/>
<text x="529" y="419.4" font-size="7.9" fill="#1c1c1c" text-anchor="end" font-weight="normal" >0.8u</text>
<line x1="530.7" y1="397" x2="533.2" y2="397" stroke="#5a5a5a" stroke-width="1"/>
<text x="529" y="399.8" font-size="7.9" fill="#1c1c1c" text-anchor="end" font-weight="normal" >1.0u</text>
<line x1="530.7" y1="377.4" x2="533.2" y2="377.4" stroke="#5a5a5a" stroke-width="1"/>
<text x="529" y="380.2" font-size="7.9" fill="#1c1c1c" text-anchor="end" font-weight="normal" >1.2u</text>
<line x1="530.7" y1="357.8" x2="533.2" y2="357.8" stroke="#5a5a5a" stroke-width="1"/>
<text x="529" y="360.6" font-size="7.9" fill="#1c1c1c" text-anchor="end" font-weight="normal" >1.4u</text>
<line x1="531.7" y1="485.2" x2="533.2" y2="485.2" stroke="#5a5a5a" stroke-width="0.8"/>
<line x1="531.7" y1="465.6" x2="533.2" y2="465.6" stroke="#5a5a5a" stroke-width="0.8"/>
<line x1="531.7" y1="446" x2="533.2" y2="446" stroke="#5a5a5a" stroke-width="0.8"/>
<line x1="531.7" y1="426.4" x2="533.2" y2="426.4" stroke="#5a5a5a" stroke-width="0.8"/>
<line x1="531.7" y1="406.8" x2="533.2" y2="406.8" stroke="#5a5a5a" stroke-width="0.8"/>
<line x1="531.7" y1="387.2" x2="533.2" y2="387.2" stroke="#5a5a5a" stroke-width="0.8"/>
<line x1="531.7" y1="367.6" x2="533.2" y2="367.6" stroke="#5a5a5a" stroke-width="0.8"/>
<line x1="533.2" y1="495.9" x2="533.2" y2="498.4" stroke="#5a5a5a" stroke-width="1"/>
<text x="533.2" y="505.5" font-size="7.9" fill="#1c1c1c" text-anchor="middle" font-weight="normal" >0</text>
<line x1="560.7" y1="495.9" x2="560.7" y2="498.4" stroke="#5a5a5a" stroke-width="1"/>
<text x="560.7" y="505.5" font-size="7.9" fill="#1c1c1c" text-anchor="middle" font-weight="normal" >1</text>
<line x1="588.2" y1="495.9" x2="588.2" y2="498.4" stroke="#5a5a5a" stroke-width="1"/>
<text x="588.2" y="505.5" font-size="7.9" fill="#1c1c1c" text-anchor="middle" font-weight="normal" >2</text>
<line x1="615.7" y1="495.9" x2="615.7" y2="498.4" stroke="#5a5a5a" stroke-width="1"/>
<text x="615.7" y="505.5" font-size="7.9" fill="#1c1c1c" text-anchor="middle" font-weight="normal" >3</text>
<line x1="643.2" y1="495.9" x2="643.2" y2="498.4" stroke="#5a5a5a" stroke-width="1"/>
<text x="643.2" y="505.5" font-size="7.9" fill="#1c1c1c" text-anchor="middle" font-weight="normal" >4</text>
<line x1="670.7" y1="495.9" x2="670.7" y2="498.4" stroke="#5a5a5a" stroke-width="1"/>
<text x="670.7" y="505.5" font-size="7.9" fill="#1c1c1c" text-anchor="middle" font-weight="normal" >5</text>
<line x1="547" y1="495.9" x2="547" y2="497.4" stroke="#5a5a5a" stroke-width="0.8"/>
<line x1="574.5" y1="495.9" x2="574.5" y2="497.4" stroke="#5a5a5a" stroke-width="0.8"/>
<line x1="602" y1="495.9" x2="602" y2="497.4" stroke="#5a5a5a" stroke-width="0.8"/>
<line x1="629.5" y1="495.9" x2="629.5" y2="497.4" stroke="#5a5a5a" stroke-width="0.8"/>
<line x1="657" y1="495.9" x2="657" y2="497.4" stroke="#5a5a5a" stroke-width="0.8"/>
<text x="602" y="518.5" font-size="13.4" fill="#2a2a2a" text-anchor="middle" font-weight="normal" textLength="34.4" lengthAdjust="spacingAndGlyphs">V<tspan font-size="9.2" dy="2.8">in</tspan><tspan dy="-2.8"> (V)</tspan></text>
<text x="43.9" y="357.2" font-size="14.5" fill="#000" text-anchor="start" font-weight="normal" >i</text>
<text x="206.6" y="357.5" font-size="14.5" fill="#000" text-anchor="start" font-weight="normal" >j</text>
<text x="376" y="359.6" font-size="14.5" fill="#000" text-anchor="start" font-weight="normal" >k</text>
<text x="538" y="359.4" font-size="14.5" fill="#000" text-anchor="start" font-weight="normal" >l</text>
<text transform="translate(12.6,422.8) rotate(-90)" font-size="13.4" fill="#2a2a2a" text-anchor="middle" textLength="24" lengthAdjust="spacingAndGlyphs">I (A)</text>
<rect x="41.2" y="363.1" width="40.8" height="30" fill="#fff" stroke="#555" stroke-width="0.9"/>
<line x1="42.2" y1="368.1" x2="57.2" y2="368.1" stroke="#f3bd16" stroke-width="1.8"/>
<text x="57.5" y="370.4" font-size="6.5" fill="#555" text-anchor="start" font-weight="normal" >V<tspan font-size="4.6" dy="1.5">DD</tspan><tspan dy="-1.5">=5V</tspan></text>
<line x1="42.2" y1="378" x2="57.2" y2="378" stroke="#285690" stroke-width="1.8"/>
<text x="57.5" y="380.3" font-size="6.5" fill="#555" text-anchor="start" font-weight="normal" >V<tspan font-size="4.6" dy="1.5">DD</tspan><tspan dy="-1.5">=3V</tspan></text>
<line x1="42.2" y1="387.4" x2="57.2" y2="387.4" stroke="#de1b24" stroke-width="1.8"/>
<text x="57.5" y="389.7" font-size="6.5" fill="#555" text-anchor="start" font-weight="normal" >V<tspan font-size="4.6" dy="1.5">DD</tspan><tspan dy="-1.5">=1V</tspan></text>
<path d="M34.4,495.4 L45.5,494.5 L50.1,493.8 L54.3,492.9 L57.6,491.9 L60.3,490.9 L62.7,489.5 L65,487.7 L71.5,481.7 L78.4,474 L79.8,472.2 L82.1,467.9 L88.1,453.6 L90.9,448.7 L93.2,445.4 L95.1,443.4 L97.9,441 L102.5,437.7 L106.2,435.5 L112.2,432.8 L118.7,430.3 L124.3,428.5 L130.7,427 L139.5,425.4 L151.1,423.8 L162.7,422.5 L172.9,421.6" fill="none" stroke="#f3bd16" stroke-width="1.8" stroke-linejoin="round" />
<path d="M34.4,495.4 L43.2,494.8 L49.9,493.8 L55.7,492.5 L60.4,490.9 L63.4,489 L67,486 L71.1,482.1 L78.8,473.2 L84.4,468.3 L88.5,465.3 L94.6,462.1 L100.4,460.1 L109.5,457.6 L113.4,457 L116.9,456.6" fill="none" stroke="#285690" stroke-width="1.8" stroke-linejoin="round" />
<path d="M34.4,495.4 L42.7,494.8 L48.5,494.1 L55.2,492.8 L62.1,491" fill="none" stroke="#de1b24" stroke-width="2.0" stroke-linejoin="round" />
<circle cx="34.4" cy="495.4" r="2.2" fill="none" stroke="#222" stroke-width="1"/>
<line x1="118.9" y1="419.2" x2="174.9" y2="419.2" stroke="#707070" stroke-width="0.9" stroke-dasharray="1.4 0.6"/>
<line x1="117" y1="456.5" x2="174" y2="456.5" stroke="#707070" stroke-width="0.9" stroke-dasharray="1.4 0.6"/>
<text x="114" y="416.2" font-size="8" fill="#333" text-anchor="start" font-weight="normal" >I<tspan font-size="5.6" dy="1.8">peak</tspan><tspan dy="-1.8">=I</tspan><tspan font-size="5.6" dy="1.8">stat,1</tspan><tspan dy="-1.8">=750nA</tspan></text>
<text x="112.2" y="453.7" font-size="8" fill="#333" text-anchor="start" font-weight="normal" >I<tspan font-size="5.6" dy="1.8">peak</tspan><tspan dy="-1.8">=I</tspan><tspan font-size="5.6" dy="1.8">stat,1</tspan><tspan dy="-1.8">=400nA</tspan></text>
<text x="36.6" y="478.2" font-size="8.3" fill="#333" text-anchor="start" font-weight="normal" >I<tspan font-size="5.6" dy="1.8">stat,0</tspan><tspan dy="-1.8">=</tspan></text>
<text x="36.6" y="488.6" font-size="8.3" fill="#333" text-anchor="start" font-weight="normal" >300pA</text>
<path d="M200.7,496.9 L210.3,496.6 L215.2,496.1 L223.7,494 L226.5,492.9 L229.1,491.7 L230.5,490.6 L232.2,489 L243.8,476.3 L247.8,471.5 L252.3,465.2 L254.9,461.1 L257.1,456.8 L262,444.2 L269.3,421.7 L277,396.5 L285.5,370.3" fill="none" stroke="#f3bd16" stroke-width="1.8" stroke-linejoin="round" />
<path d="M285.5,370.5 L292.5,394 L297.6,409.6 L303,423.7 L308.1,434.9 L313.5,444.5 L319.4,453.2 L327.5,463.3 L339.1,476.6" fill="none" stroke="#f3bd16" stroke-width="1.8" stroke-linejoin="round" />
<path d="M200.7,496.9 L211.8,496.5 L215.7,496 L221,494.7 L224.5,493.7 L227.8,492.3 L229.9,491.1 L232.9,488.2 L243,477.3 L246.9,472.7 L251.4,466.3 L259.2,453.5 L260.6,451.9 L262.1,450.8" fill="none" stroke="#285690" stroke-width="1.8" stroke-linejoin="round" />
<path d="M262.1,450.8 L264.7,452.1 L266.6,453.8 L270.2,458.1 L279.3,470 L282.5,473.5 L285.5,476.5" fill="none" stroke="#285690" stroke-width="1.8" stroke-linejoin="round" />
<path d="M200.7,496.9 L209.8,496.6 L214.9,496.1 L222.2,494.4 L228.6,491.9" fill="none" stroke="#de1b24" stroke-width="2.0" stroke-linejoin="round" />
<line x1="231" y1="370.3" x2="285.5" y2="370.3" stroke="#707070" stroke-width="0.9" stroke-dasharray="1.4 0.6"/>
<line x1="208.7" y1="450.8" x2="262.6" y2="450.8" stroke="#707070" stroke-width="0.9" stroke-dasharray="1.4 0.6"/>
<line x1="285.5" y1="477.3" x2="341" y2="477.3" stroke="#707070" stroke-width="0.9" stroke-dasharray="1.4 0.6"/>
<text x="238.4" y="367.3" font-size="8" fill="#333" text-anchor="start" font-weight="normal" >I<tspan font-size="5.6" dy="1.8">peak</tspan><tspan dy="-1.8">=1.26uA</tspan></text>
<text x="216.4" y="447.5" font-size="8" fill="#333" text-anchor="start" font-weight="normal" >I<tspan font-size="5.6" dy="1.8">peak</tspan><tspan dy="-1.8">=464nA</tspan></text>
<text x="287.5" y="474" font-size="8" fill="#333" text-anchor="start" font-weight="normal" >I<tspan font-size="5.6" dy="1.8">stat,1</tspan><tspan dy="-1.8">=200nA</tspan></text>
<path d="M367.6,495.6 L372.7,495.4 L379.7,494.9 L383.8,494.3 L387,493.6 L390.5,492.4 L393.4,491.1 L397,489 L400.5,486.4 L406.9,480.9 L409.1,478.6 L410.9,476.3 L413.6,471.9 L426.1,449.4" fill="none" stroke="#f3bd16" stroke-width="1.8" stroke-linejoin="round" />
<path d="M426.1,449.4 L442,461.3 L453,469.1 L462.3,475.2 L470.8,480 L479,483.8 L486.7,486.6 L495.2,488.9 L507,491.4" fill="none" stroke="#f3bd16" stroke-width="1.8" stroke-linejoin="round" />
<path d="M367.6,495.6 L374,495.4 L381.5,494.7 L386.3,493.8 L390.8,492.3 L394.9,490.3 L398.6,487.9 L404.5,483.1 L409.9,478.3" fill="none" stroke="#285690" stroke-width="1.8" stroke-linejoin="round" />
<path d="M409.9,478.3 L421.5,482.3 L430.8,486.5 L434.4,487.9 L444.1,490.3 L451.6,491.3" fill="none" stroke="#285690" stroke-width="1.8" stroke-linejoin="round" />
<path d="M367.6,495.6 L374.7,495.3 L382.5,494.6 L389.2,493.7 L395.6,492.3" fill="none" stroke="#de1b24" stroke-width="2.0" stroke-linejoin="round" />
<line x1="426.2" y1="449.4" x2="482" y2="449.4" stroke="#707070" stroke-width="0.9" stroke-dasharray="1.4 0.6"/>
<line x1="372.3" y1="478.7" x2="428.3" y2="478.7" stroke="#707070" stroke-width="0.9" stroke-dasharray="1.4 0.6"/>
<line x1="450.7" y1="493" x2="507" y2="493" stroke="#707070" stroke-width="0.9" stroke-dasharray="1.4 0.6"/>
<text x="432.3" y="445.3" font-size="8" fill="#333" text-anchor="start" font-weight="normal" >I<tspan font-size="5.6" dy="1.8">peak</tspan><tspan dy="-1.8">=462nA</tspan></text>
<text x="371.3" y="475.3" font-size="8" fill="#333" text-anchor="start" font-weight="normal" >I<tspan font-size="5.6" dy="1.8">peak</tspan><tspan dy="-1.8">=172nA</tspan></text>
<text x="449.7" y="490.5" font-size="8" fill="#333" text-anchor="start" font-weight="normal" >I<tspan font-size="5.6" dy="1.8">stat,1</tspan><tspan dy="-1.8">=40nA</tspan></text>
<path d="M533.2,495 L539,494.8 L544.6,494.3 L549.2,493.4 L552.9,492.1 L558.2,489.4 L564.5,485.6 L568.9,482.2 L573.1,478.1 L575.2,475.7 L577,473.1 L581.4,465.4 L588.6,450.5 L596,433.1 L599.3,426.7 L602.5,420.8" fill="none" stroke="#f3bd16" stroke-width="1.8" stroke-linejoin="round" />
<path d="M602.5,420.8 L609.6,437.7 L615,452.1 L617.6,457.9 L621,464.1 L624.6,470 L628,474.8 L631.5,478.8 L636.3,483.5 L640.6,487.3 L644,489.8 L647,491.3 L651.8,492.6 L659.3,494.1 L665.2,494.8 L670.7,495" fill="none" stroke="#f3bd16" stroke-width="1.8" stroke-linejoin="round" />
<path d="M533.2,495 L540,494.7 L545.2,494.2 L549.6,493.2 L553.6,491.7 L559.4,488.7 L564.5,485.5 L569.2,481.7 L574.5,476.6" fill="none" stroke="#285690" stroke-width="1.8" stroke-linejoin="round" />
<path d="M574.5,476.6 L579,482 L583.1,485.8 L588.2,489.5 L592.6,491.9 L595.8,493 L602.8,494.1 L609.6,494.8 L616,495" fill="none" stroke="#285690" stroke-width="1.8" stroke-linejoin="round" />
<path d="M533.2,495 L539.6,494.1 L548,493.4 L550.8,493.6 L561.2,495" fill="none" stroke="#de1b24" stroke-width="2.0" stroke-linejoin="round" />
<line x1="602.4" y1="420.4" x2="658.7" y2="420.4" stroke="#707070" stroke-width="0.9" stroke-dasharray="1.4 0.6"/>
<line x1="536" y1="476.6" x2="591.9" y2="476.6" stroke="#707070" stroke-width="0.9" stroke-dasharray="1.4 0.6"/>
<line x1="610" y1="495.2" x2="670" y2="495.2" stroke="#707070" stroke-width="0.9" stroke-dasharray="1.4 0.6"/>
<text x="609" y="417.1" font-size="8" fill="#333" text-anchor="start" font-weight="normal" >I<tspan font-size="5.6" dy="1.8">peak</tspan><tspan dy="-1.8">=750nA</tspan></text>
<text x="536.8" y="473.4" font-size="8" fill="#333" text-anchor="start" font-weight="normal" >I<tspan font-size="5.6" dy="1.8">peak</tspan><tspan dy="-1.8">=186nA</tspan></text>
<text x="609.4" y="492" font-size="8" fill="#333" text-anchor="start" font-weight="normal" >I<tspan font-size="5.6" dy="1.8">stat,1</tspan><tspan dy="-1.8">=300pA</tspan></text>
</g>
</svg></body></html>
